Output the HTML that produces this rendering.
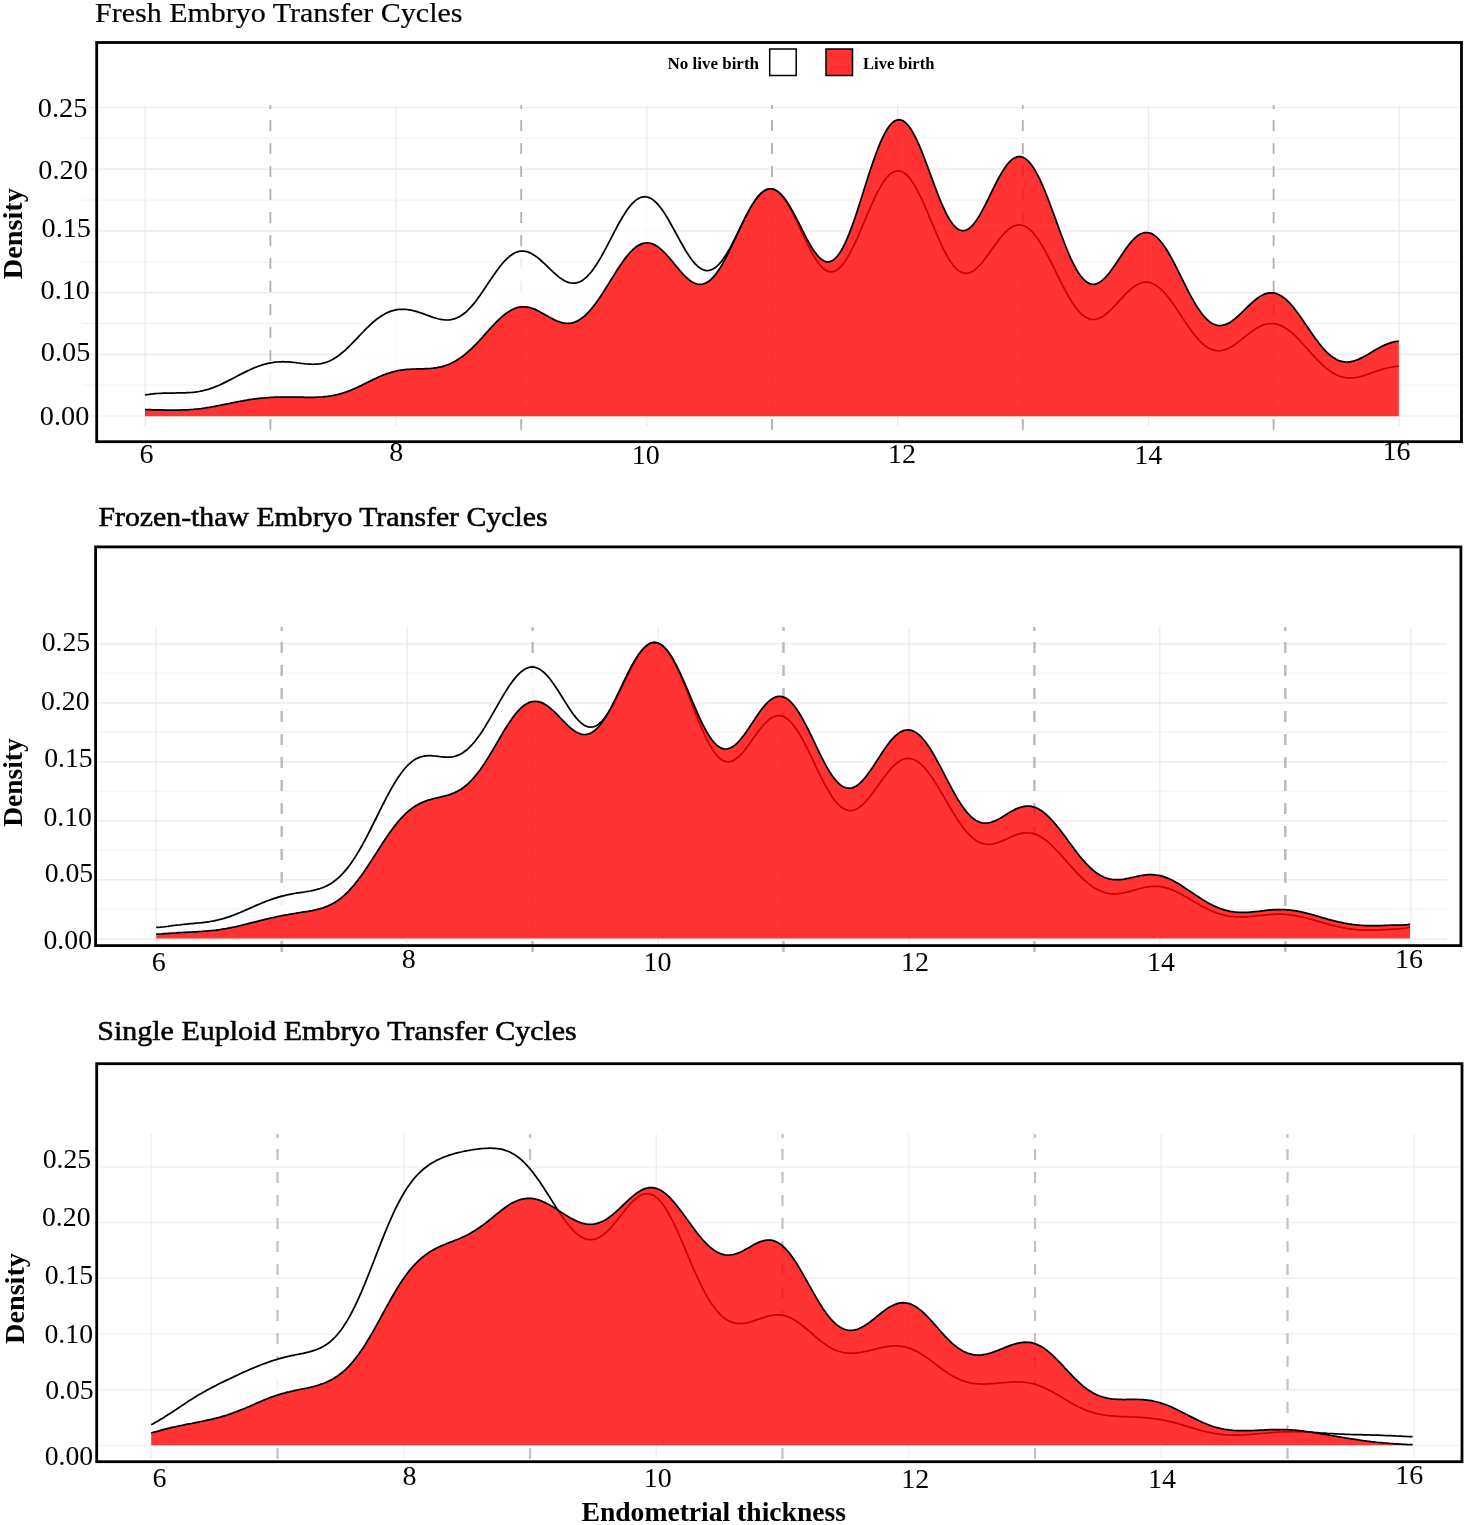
<!DOCTYPE html>
<html lang="en"><head><meta charset="utf-8"><title>Endometrial thickness density</title>
<style>html,body{margin:0;padding:0;background:#fff}svg{display:block}text{font-family:"Liberation Serif","Times New Roman",serif;fill:#000}</style>
</head><body>
<svg width="1480" height="1525" viewBox="0 0 1480 1525">
<rect width="1480" height="1525" fill="#fff"/>
<g>
<path d="M82,138.3H1459 M82,200.1H1459 M82,261.8H1459 M82,323.5H1459 M82,385.2H1459" stroke="#f0f0f0" stroke-width="1" fill="none"/>
<path d="M90,107.5H1459 M90,169.2H1459 M90,230.9H1459 M90,292.6H1459 M90,354.3H1459 M90,416.0H1459 M145.2,105V426 M396.0,105V426 M646.8,105V426 M897.6,105V426 M1148.4,105V426 M1399.2,105V426" stroke="#e9e9e9" stroke-width="1.2" fill="none"/>
<path d="M270.4,105V431 M521.2,105V431 M772.0,105V431 M1022.8,105V431 M1273.6,105V431" stroke="#b0b0b0" stroke-width="1.8" stroke-dasharray="4 11 11 12 11 12 11 12 11 12 11 12 11 12 11 12 11 12 11 12 11 12 11 12 11 12 11 12 11 12" fill="none"/>
<path d="M145.0,394.9 L147.0,394.6 L149.0,394.4 L151.0,394.1 L153.0,393.9 L155.0,393.7 L157.0,393.5 L159.0,393.4 L161.0,393.3 L163.0,393.2 L165.0,393.1 L167.0,393.1 L169.0,393.0 L171.0,393.0 L173.0,393.0 L175.0,393.0 L177.0,392.9 L179.0,392.9 L181.0,392.9 L183.0,392.9 L185.0,392.8 L187.0,392.7 L189.0,392.6 L191.0,392.5 L193.0,392.3 L195.0,392.1 L197.0,391.8 L199.0,391.5 L201.0,391.1 L203.0,390.7 L205.0,390.2 L207.0,389.7 L209.0,389.1 L211.0,388.4 L213.0,387.7 L215.0,386.9 L217.0,386.1 L219.0,385.3 L221.0,384.4 L223.0,383.4 L225.0,382.4 L227.0,381.4 L229.0,380.4 L231.0,379.4 L233.0,378.3 L235.0,377.3 L237.0,376.2 L239.0,375.1 L241.0,374.1 L243.0,373.1 L245.0,372.1 L247.0,371.1 L249.0,370.2 L251.0,369.2 L253.0,368.4 L255.0,367.5 L257.0,366.8 L259.0,366.0 L261.0,365.4 L263.0,364.7 L265.0,364.2 L267.0,363.6 L269.0,363.2 L271.0,362.8 L273.0,362.5 L275.0,362.2 L277.0,362.0 L279.0,361.9 L281.0,361.8 L283.0,361.7 L285.0,361.8 L287.0,361.8 L289.0,361.9 L291.0,362.1 L293.0,362.3 L295.0,362.5 L297.0,362.8 L299.0,363.0 L301.0,363.3 L303.0,363.5 L305.0,363.8 L307.0,364.0 L309.0,364.1 L311.0,364.2 L313.0,364.3 L315.0,364.2 L317.0,364.1 L319.0,363.9 L321.0,363.6 L323.0,363.2 L325.0,362.6 L327.0,362.0 L329.0,361.2 L331.0,360.2 L333.0,359.2 L335.0,358.0 L337.0,356.7 L339.0,355.2 L341.0,353.7 L343.0,352.0 L345.0,350.3 L347.0,348.4 L349.0,346.5 L351.0,344.5 L353.0,342.4 L355.0,340.4 L357.0,338.3 L359.0,336.1 L361.0,334.0 L363.0,332.0 L365.0,329.9 L367.0,327.9 L369.0,326.0 L371.0,324.1 L373.0,322.3 L375.0,320.6 L377.0,319.0 L379.0,317.6 L381.0,316.2 L383.0,314.9 L385.0,313.8 L387.0,312.8 L389.0,311.9 L391.0,311.2 L393.0,310.6 L395.0,310.1 L397.0,309.7 L399.0,309.4 L401.0,309.3 L403.0,309.3 L405.0,309.3 L407.0,309.5 L409.0,309.8 L411.0,310.1 L413.0,310.6 L415.0,311.1 L417.0,311.7 L419.0,312.3 L421.0,313.0 L423.0,313.7 L425.0,314.4 L427.0,315.2 L429.0,315.9 L431.0,316.6 L433.0,317.3 L435.0,317.9 L437.0,318.5 L439.0,319.0 L441.0,319.4 L443.0,319.7 L445.0,319.9 L447.0,320.0 L449.0,319.9 L451.0,319.6 L453.0,319.2 L455.0,318.6 L457.0,317.8 L459.0,316.9 L461.0,315.7 L463.0,314.3 L465.0,312.8 L467.0,311.0 L469.0,309.0 L471.0,306.9 L473.0,304.6 L475.0,302.2 L477.0,299.6 L479.0,296.8 L481.0,294.0 L483.0,291.1 L485.0,288.1 L487.0,285.1 L489.0,282.1 L491.0,279.1 L493.0,276.2 L495.0,273.3 L497.0,270.4 L499.0,267.7 L501.0,265.2 L503.0,262.8 L505.0,260.6 L507.0,258.6 L509.0,256.8 L511.0,255.2 L513.0,253.9 L515.0,252.8 L517.0,252.0 L519.0,251.4 L521.0,251.1 L523.0,251.0 L525.0,251.3 L527.0,251.7 L529.0,252.4 L531.0,253.3 L533.0,254.4 L535.0,255.7 L537.0,257.1 L539.0,258.7 L541.0,260.5 L543.0,262.3 L545.0,264.2 L547.0,266.1 L549.0,268.0 L551.0,270.0 L553.0,271.9 L555.0,273.7 L557.0,275.4 L559.0,277.1 L561.0,278.5 L563.0,279.8 L565.0,281.0 L567.0,281.9 L569.0,282.6 L571.0,283.0 L573.0,283.2 L575.0,283.1 L577.0,282.7 L579.0,282.1 L581.0,281.2 L583.0,279.9 L585.0,278.4 L587.0,276.6 L589.0,274.5 L591.0,272.2 L593.0,269.6 L595.0,266.8 L597.0,263.7 L599.0,260.5 L601.0,257.1 L603.0,253.5 L605.0,249.8 L607.0,246.1 L609.0,242.2 L611.0,238.4 L613.0,234.5 L615.0,230.7 L617.0,226.9 L619.0,223.2 L621.0,219.7 L623.0,216.3 L625.0,213.1 L627.0,210.1 L629.0,207.4 L631.0,204.9 L633.0,202.8 L635.0,200.9 L637.0,199.4 L639.0,198.2 L641.0,197.3 L643.0,196.8 L645.0,196.7 L647.0,197.0 L649.0,197.6 L651.0,198.5 L653.0,199.8 L655.0,201.5 L657.0,203.4 L659.0,205.7 L661.0,208.2 L663.0,211.0 L665.0,214.1 L667.0,217.3 L669.0,220.7 L671.0,224.2 L673.0,227.8 L675.0,231.5 L677.0,235.2 L679.0,238.8 L681.0,242.5 L683.0,246.0 L685.0,249.5 L687.0,252.7 L689.0,255.8 L691.0,258.7 L693.0,261.3 L695.0,263.6 L697.0,265.6 L699.0,267.3 L701.0,268.7 L703.0,269.7 L705.0,270.3 L707.0,270.6 L709.0,270.4 L711.0,269.9 L713.0,269.0 L715.0,267.8 L717.0,266.1 L719.0,264.2 L721.0,261.9 L723.0,259.2 L725.0,256.3 L727.0,253.2 L729.0,249.8 L731.0,246.2 L733.0,242.4 L735.0,238.5 L737.0,234.5 L739.0,230.4 L741.0,226.4 L743.0,222.3 L745.0,218.4 L747.0,214.5 L749.0,210.8 L751.0,207.2 L753.0,203.9 L755.0,200.8 L757.0,198.0 L759.0,195.6 L761.0,193.5 L763.0,191.7 L765.0,190.4 L767.0,189.4 L769.0,188.9 L771.0,188.8 L773.0,189.1 L775.0,189.9 L777.0,191.0 L779.0,192.6 L781.0,194.6 L783.0,197.0 L785.0,199.8 L787.0,202.8 L789.0,206.2 L791.0,209.8 L793.0,213.6 L795.0,217.7 L797.0,221.8 L799.0,226.1 L801.0,230.4 L803.0,234.7 L805.0,238.9 L807.0,243.1 L809.0,247.1 L811.0,251.0 L813.0,254.6 L815.0,258.0 L817.0,261.1 L819.0,263.8 L821.0,266.2 L823.0,268.2 L825.0,269.7 L827.0,270.9 L829.0,271.6 L831.0,271.9 L833.0,271.7 L835.0,271.0 L837.0,269.9 L839.0,268.4 L841.0,266.5 L843.0,264.1 L845.0,261.4 L847.0,258.3 L849.0,254.9 L851.0,251.2 L853.0,247.2 L855.0,243.0 L857.0,238.6 L859.0,234.1 L861.0,229.4 L863.0,224.7 L865.0,220.0 L867.0,215.2 L869.0,210.6 L871.0,206.0 L873.0,201.6 L875.0,197.3 L877.0,193.2 L879.0,189.4 L881.0,185.9 L883.0,182.7 L885.0,179.9 L887.0,177.3 L889.0,175.2 L891.0,173.5 L893.0,172.2 L895.0,171.3 L897.0,170.9 L899.0,170.9 L901.0,171.3 L903.0,172.2 L905.0,173.5 L907.0,175.3 L909.0,177.4 L911.0,180.0 L913.0,182.9 L915.0,186.1 L917.0,189.7 L919.0,193.6 L921.0,197.7 L923.0,202.0 L925.0,206.5 L927.0,211.1 L929.0,215.9 L931.0,220.7 L933.0,225.4 L935.0,230.2 L937.0,234.9 L939.0,239.5 L941.0,243.9 L943.0,248.1 L945.0,252.0 L947.0,255.8 L949.0,259.2 L951.0,262.3 L953.0,265.0 L955.0,267.4 L957.0,269.3 L959.0,270.9 L961.0,272.1 L963.0,272.9 L965.0,273.3 L967.0,273.3 L969.0,272.9 L971.0,272.2 L973.0,271.1 L975.0,269.7 L977.0,268.0 L979.0,266.0 L981.0,263.8 L983.0,261.4 L985.0,258.8 L987.0,256.2 L989.0,253.4 L991.0,250.6 L993.0,247.8 L995.0,245.0 L997.0,242.2 L999.0,239.6 L1001.0,237.1 L1003.0,234.7 L1005.0,232.6 L1007.0,230.7 L1009.0,229.0 L1011.0,227.6 L1013.0,226.4 L1015.0,225.6 L1017.0,225.1 L1019.0,224.9 L1021.0,225.0 L1023.0,225.5 L1025.0,226.3 L1027.0,227.4 L1029.0,228.9 L1031.0,230.6 L1033.0,232.7 L1035.0,235.1 L1037.0,237.7 L1039.0,240.6 L1041.0,243.7 L1043.0,247.1 L1045.0,250.6 L1047.0,254.3 L1049.0,258.1 L1051.0,262.0 L1053.0,266.0 L1055.0,270.1 L1057.0,274.2 L1059.0,278.2 L1061.0,282.2 L1063.0,286.2 L1065.0,290.0 L1067.0,293.7 L1069.0,297.2 L1071.0,300.5 L1073.0,303.7 L1075.0,306.5 L1077.0,309.2 L1079.0,311.5 L1081.0,313.6 L1083.0,315.3 L1085.0,316.8 L1087.0,317.9 L1089.0,318.8 L1091.0,319.3 L1093.0,319.5 L1095.0,319.4 L1097.0,319.0 L1099.0,318.3 L1101.0,317.4 L1103.0,316.2 L1105.0,314.9 L1107.0,313.3 L1109.0,311.5 L1111.0,309.6 L1113.0,307.6 L1115.0,305.5 L1117.0,303.3 L1119.0,301.1 L1121.0,299.0 L1123.0,296.8 L1125.0,294.7 L1127.0,292.7 L1129.0,290.8 L1131.0,289.0 L1133.0,287.4 L1135.0,286.0 L1137.0,284.8 L1139.0,283.8 L1141.0,283.0 L1143.0,282.5 L1145.0,282.2 L1147.0,282.2 L1149.0,282.4 L1151.0,282.9 L1153.0,283.7 L1155.0,284.7 L1157.0,286.0 L1159.0,287.5 L1161.0,289.2 L1163.0,291.2 L1165.0,293.4 L1167.0,295.7 L1169.0,298.2 L1171.0,300.9 L1173.0,303.7 L1175.0,306.5 L1177.0,309.5 L1179.0,312.5 L1181.0,315.5 L1183.0,318.6 L1185.0,321.6 L1187.0,324.5 L1189.0,327.4 L1191.0,330.2 L1193.0,332.9 L1195.0,335.5 L1197.0,337.9 L1199.0,340.1 L1201.0,342.1 L1203.0,344.0 L1205.0,345.6 L1207.0,347.0 L1209.0,348.2 L1211.0,349.2 L1213.0,349.9 L1215.0,350.4 L1217.0,350.7 L1219.0,350.8 L1221.0,350.6 L1223.0,350.2 L1225.0,349.6 L1227.0,348.9 L1229.0,348.0 L1231.0,346.9 L1233.0,345.7 L1235.0,344.4 L1237.0,342.9 L1239.0,341.4 L1241.0,339.9 L1243.0,338.3 L1245.0,336.7 L1247.0,335.1 L1249.0,333.6 L1251.0,332.1 L1253.0,330.6 L1255.0,329.3 L1257.0,328.1 L1259.0,326.9 L1261.0,326.0 L1263.0,325.1 L1265.0,324.5 L1267.0,324.0 L1269.0,323.6 L1271.0,323.5 L1273.0,323.5 L1275.0,323.8 L1277.0,324.2 L1279.0,324.8 L1281.0,325.6 L1283.0,326.6 L1285.0,327.7 L1287.0,329.1 L1289.0,330.5 L1291.0,332.1 L1293.0,333.9 L1295.0,335.7 L1297.0,337.7 L1299.0,339.7 L1301.0,341.9 L1303.0,344.0 L1305.0,346.3 L1307.0,348.5 L1309.0,350.7 L1311.0,353.0 L1313.0,355.2 L1315.0,357.4 L1317.0,359.5 L1319.0,361.5 L1321.0,363.5 L1323.0,365.4 L1325.0,367.1 L1327.0,368.8 L1329.0,370.3 L1331.0,371.7 L1333.0,373.0 L1335.0,374.1 L1337.0,375.1 L1339.0,375.9 L1341.0,376.6 L1343.0,377.1 L1345.0,377.5 L1347.0,377.8 L1349.0,377.9 L1351.0,377.9 L1353.0,377.8 L1355.0,377.6 L1357.0,377.3 L1359.0,376.9 L1361.0,376.4 L1363.0,375.8 L1365.0,375.2 L1367.0,374.5 L1369.0,373.9 L1371.0,373.1 L1373.0,372.4 L1375.0,371.7 L1377.0,371.0 L1379.0,370.3 L1381.0,369.7 L1383.0,369.1 L1385.0,368.5 L1387.0,368.0 L1389.0,367.5 L1391.0,367.1 L1393.0,366.8 L1395.0,366.5 L1397.0,366.3 L1398.8,366.2 L1398.8,416.2 L145.0,416.2 Z" fill="#ffffff" fill-opacity="0.8" stroke="none"/>
<path d="M145.0,394.9 L147.0,394.6 L149.0,394.4 L151.0,394.1 L153.0,393.9 L155.0,393.7 L157.0,393.5 L159.0,393.4 L161.0,393.3 L163.0,393.2 L165.0,393.1 L167.0,393.1 L169.0,393.0 L171.0,393.0 L173.0,393.0 L175.0,393.0 L177.0,392.9 L179.0,392.9 L181.0,392.9 L183.0,392.9 L185.0,392.8 L187.0,392.7 L189.0,392.6 L191.0,392.5 L193.0,392.3 L195.0,392.1 L197.0,391.8 L199.0,391.5 L201.0,391.1 L203.0,390.7 L205.0,390.2 L207.0,389.7 L209.0,389.1 L211.0,388.4 L213.0,387.7 L215.0,386.9 L217.0,386.1 L219.0,385.3 L221.0,384.4 L223.0,383.4 L225.0,382.4 L227.0,381.4 L229.0,380.4 L231.0,379.4 L233.0,378.3 L235.0,377.3 L237.0,376.2 L239.0,375.1 L241.0,374.1 L243.0,373.1 L245.0,372.1 L247.0,371.1 L249.0,370.2 L251.0,369.2 L253.0,368.4 L255.0,367.5 L257.0,366.8 L259.0,366.0 L261.0,365.4 L263.0,364.7 L265.0,364.2 L267.0,363.6 L269.0,363.2 L271.0,362.8 L273.0,362.5 L275.0,362.2 L277.0,362.0 L279.0,361.9 L281.0,361.8 L283.0,361.7 L285.0,361.8 L287.0,361.8 L289.0,361.9 L291.0,362.1 L293.0,362.3 L295.0,362.5 L297.0,362.8 L299.0,363.0 L301.0,363.3 L303.0,363.5 L305.0,363.8 L307.0,364.0 L309.0,364.1 L311.0,364.2 L313.0,364.3 L315.0,364.2 L317.0,364.1 L319.0,363.9 L321.0,363.6 L323.0,363.2 L325.0,362.6 L327.0,362.0 L329.0,361.2 L331.0,360.2 L333.0,359.2 L335.0,358.0 L337.0,356.7 L339.0,355.2 L341.0,353.7 L343.0,352.0 L345.0,350.3 L347.0,348.4 L349.0,346.5 L351.0,344.5 L353.0,342.4 L355.0,340.4 L357.0,338.3 L359.0,336.1 L361.0,334.0 L363.0,332.0 L365.0,329.9 L367.0,327.9 L369.0,326.0 L371.0,324.1 L373.0,322.3 L375.0,320.6 L377.0,319.0 L379.0,317.6 L381.0,316.2 L383.0,314.9 L385.0,313.8 L387.0,312.8 L389.0,311.9 L391.0,311.2 L393.0,310.6 L395.0,310.1 L397.0,309.7 L399.0,309.4 L401.0,309.3 L403.0,309.3 L405.0,309.3 L407.0,309.5 L409.0,309.8 L411.0,310.1 L413.0,310.6 L415.0,311.1 L417.0,311.7 L419.0,312.3 L421.0,313.0 L423.0,313.7 L425.0,314.4 L427.0,315.2 L429.0,315.9 L431.0,316.6 L433.0,317.3 L435.0,317.9 L437.0,318.5 L439.0,319.0 L441.0,319.4 L443.0,319.7 L445.0,319.9 L447.0,320.0 L449.0,319.9 L451.0,319.6 L453.0,319.2 L455.0,318.6 L457.0,317.8 L459.0,316.9 L461.0,315.7 L463.0,314.3 L465.0,312.8 L467.0,311.0 L469.0,309.0 L471.0,306.9 L473.0,304.6 L475.0,302.2 L477.0,299.6 L479.0,296.8 L481.0,294.0 L483.0,291.1 L485.0,288.1 L487.0,285.1 L489.0,282.1 L491.0,279.1 L493.0,276.2 L495.0,273.3 L497.0,270.4 L499.0,267.7 L501.0,265.2 L503.0,262.8 L505.0,260.6 L507.0,258.6 L509.0,256.8 L511.0,255.2 L513.0,253.9 L515.0,252.8 L517.0,252.0 L519.0,251.4 L521.0,251.1 L523.0,251.0 L525.0,251.3 L527.0,251.7 L529.0,252.4 L531.0,253.3 L533.0,254.4 L535.0,255.7 L537.0,257.1 L539.0,258.7 L541.0,260.5 L543.0,262.3 L545.0,264.2 L547.0,266.1 L549.0,268.0 L551.0,270.0 L553.0,271.9 L555.0,273.7 L557.0,275.4 L559.0,277.1 L561.0,278.5 L563.0,279.8 L565.0,281.0 L567.0,281.9 L569.0,282.6 L571.0,283.0 L573.0,283.2 L575.0,283.1 L577.0,282.7 L579.0,282.1 L581.0,281.2 L583.0,279.9 L585.0,278.4 L587.0,276.6 L589.0,274.5 L591.0,272.2 L593.0,269.6 L595.0,266.8 L597.0,263.7 L599.0,260.5 L601.0,257.1 L603.0,253.5 L605.0,249.8 L607.0,246.1 L609.0,242.2 L611.0,238.4 L613.0,234.5 L615.0,230.7 L617.0,226.9 L619.0,223.2 L621.0,219.7 L623.0,216.3 L625.0,213.1 L627.0,210.1 L629.0,207.4 L631.0,204.9 L633.0,202.8 L635.0,200.9 L637.0,199.4 L639.0,198.2 L641.0,197.3 L643.0,196.8 L645.0,196.7 L647.0,197.0 L649.0,197.6 L651.0,198.5 L653.0,199.8 L655.0,201.5 L657.0,203.4 L659.0,205.7 L661.0,208.2 L663.0,211.0 L665.0,214.1 L667.0,217.3 L669.0,220.7 L671.0,224.2 L673.0,227.8 L675.0,231.5 L677.0,235.2 L679.0,238.8 L681.0,242.5 L683.0,246.0 L685.0,249.5 L687.0,252.7 L689.0,255.8 L691.0,258.7 L693.0,261.3 L695.0,263.6 L697.0,265.6 L699.0,267.3 L701.0,268.7 L703.0,269.7 L705.0,270.3 L707.0,270.6 L709.0,270.4 L711.0,269.9 L713.0,269.0 L715.0,267.8 L717.0,266.1 L719.0,264.2 L721.0,261.9 L723.0,259.2 L725.0,256.3 L727.0,253.2 L729.0,249.8 L731.0,246.2 L733.0,242.4 L735.0,238.5 L737.0,234.5 L739.0,230.4 L741.0,226.4 L743.0,222.3 L745.0,218.4 L747.0,214.5 L749.0,210.8 L751.0,207.2 L753.0,203.9 L755.0,200.8 L757.0,198.0 L759.0,195.6 L761.0,193.5 L763.0,191.7 L765.0,190.4 L767.0,189.4 L769.0,188.9 L771.0,188.8 L773.0,189.1 L775.0,189.9 L777.0,191.0 L779.0,192.6 L781.0,194.6 L783.0,197.0 L785.0,199.8 L787.0,202.8 L789.0,206.2 L791.0,209.8 L793.0,213.6 L795.0,217.7 L797.0,221.8 L799.0,226.1 L801.0,230.4 L803.0,234.7 L805.0,238.9 L807.0,243.1 L809.0,247.1 L811.0,251.0 L813.0,254.6 L815.0,258.0 L817.0,261.1 L819.0,263.8 L821.0,266.2 L823.0,268.2 L825.0,269.7 L827.0,270.9 L829.0,271.6 L831.0,271.9 L833.0,271.7 L835.0,271.0 L837.0,269.9 L839.0,268.4 L841.0,266.5 L843.0,264.1 L845.0,261.4 L847.0,258.3 L849.0,254.9 L851.0,251.2 L853.0,247.2 L855.0,243.0 L857.0,238.6 L859.0,234.1 L861.0,229.4 L863.0,224.7 L865.0,220.0 L867.0,215.2 L869.0,210.6 L871.0,206.0 L873.0,201.6 L875.0,197.3 L877.0,193.2 L879.0,189.4 L881.0,185.9 L883.0,182.7 L885.0,179.9 L887.0,177.3 L889.0,175.2 L891.0,173.5 L893.0,172.2 L895.0,171.3 L897.0,170.9 L899.0,170.9 L901.0,171.3 L903.0,172.2 L905.0,173.5 L907.0,175.3 L909.0,177.4 L911.0,180.0 L913.0,182.9 L915.0,186.1 L917.0,189.7 L919.0,193.6 L921.0,197.7 L923.0,202.0 L925.0,206.5 L927.0,211.1 L929.0,215.9 L931.0,220.7 L933.0,225.4 L935.0,230.2 L937.0,234.9 L939.0,239.5 L941.0,243.9 L943.0,248.1 L945.0,252.0 L947.0,255.8 L949.0,259.2 L951.0,262.3 L953.0,265.0 L955.0,267.4 L957.0,269.3 L959.0,270.9 L961.0,272.1 L963.0,272.9 L965.0,273.3 L967.0,273.3 L969.0,272.9 L971.0,272.2 L973.0,271.1 L975.0,269.7 L977.0,268.0 L979.0,266.0 L981.0,263.8 L983.0,261.4 L985.0,258.8 L987.0,256.2 L989.0,253.4 L991.0,250.6 L993.0,247.8 L995.0,245.0 L997.0,242.2 L999.0,239.6 L1001.0,237.1 L1003.0,234.7 L1005.0,232.6 L1007.0,230.7 L1009.0,229.0 L1011.0,227.6 L1013.0,226.4 L1015.0,225.6 L1017.0,225.1 L1019.0,224.9 L1021.0,225.0 L1023.0,225.5 L1025.0,226.3 L1027.0,227.4 L1029.0,228.9 L1031.0,230.6 L1033.0,232.7 L1035.0,235.1 L1037.0,237.7 L1039.0,240.6 L1041.0,243.7 L1043.0,247.1 L1045.0,250.6 L1047.0,254.3 L1049.0,258.1 L1051.0,262.0 L1053.0,266.0 L1055.0,270.1 L1057.0,274.2 L1059.0,278.2 L1061.0,282.2 L1063.0,286.2 L1065.0,290.0 L1067.0,293.7 L1069.0,297.2 L1071.0,300.5 L1073.0,303.7 L1075.0,306.5 L1077.0,309.2 L1079.0,311.5 L1081.0,313.6 L1083.0,315.3 L1085.0,316.8 L1087.0,317.9 L1089.0,318.8 L1091.0,319.3 L1093.0,319.5 L1095.0,319.4 L1097.0,319.0 L1099.0,318.3 L1101.0,317.4 L1103.0,316.2 L1105.0,314.9 L1107.0,313.3 L1109.0,311.5 L1111.0,309.6 L1113.0,307.6 L1115.0,305.5 L1117.0,303.3 L1119.0,301.1 L1121.0,299.0 L1123.0,296.8 L1125.0,294.7 L1127.0,292.7 L1129.0,290.8 L1131.0,289.0 L1133.0,287.4 L1135.0,286.0 L1137.0,284.8 L1139.0,283.8 L1141.0,283.0 L1143.0,282.5 L1145.0,282.2 L1147.0,282.2 L1149.0,282.4 L1151.0,282.9 L1153.0,283.7 L1155.0,284.7 L1157.0,286.0 L1159.0,287.5 L1161.0,289.2 L1163.0,291.2 L1165.0,293.4 L1167.0,295.7 L1169.0,298.2 L1171.0,300.9 L1173.0,303.7 L1175.0,306.5 L1177.0,309.5 L1179.0,312.5 L1181.0,315.5 L1183.0,318.6 L1185.0,321.6 L1187.0,324.5 L1189.0,327.4 L1191.0,330.2 L1193.0,332.9 L1195.0,335.5 L1197.0,337.9 L1199.0,340.1 L1201.0,342.1 L1203.0,344.0 L1205.0,345.6 L1207.0,347.0 L1209.0,348.2 L1211.0,349.2 L1213.0,349.9 L1215.0,350.4 L1217.0,350.7 L1219.0,350.8 L1221.0,350.6 L1223.0,350.2 L1225.0,349.6 L1227.0,348.9 L1229.0,348.0 L1231.0,346.9 L1233.0,345.7 L1235.0,344.4 L1237.0,342.9 L1239.0,341.4 L1241.0,339.9 L1243.0,338.3 L1245.0,336.7 L1247.0,335.1 L1249.0,333.6 L1251.0,332.1 L1253.0,330.6 L1255.0,329.3 L1257.0,328.1 L1259.0,326.9 L1261.0,326.0 L1263.0,325.1 L1265.0,324.5 L1267.0,324.0 L1269.0,323.6 L1271.0,323.5 L1273.0,323.5 L1275.0,323.8 L1277.0,324.2 L1279.0,324.8 L1281.0,325.6 L1283.0,326.6 L1285.0,327.7 L1287.0,329.1 L1289.0,330.5 L1291.0,332.1 L1293.0,333.9 L1295.0,335.7 L1297.0,337.7 L1299.0,339.7 L1301.0,341.9 L1303.0,344.0 L1305.0,346.3 L1307.0,348.5 L1309.0,350.7 L1311.0,353.0 L1313.0,355.2 L1315.0,357.4 L1317.0,359.5 L1319.0,361.5 L1321.0,363.5 L1323.0,365.4 L1325.0,367.1 L1327.0,368.8 L1329.0,370.3 L1331.0,371.7 L1333.0,373.0 L1335.0,374.1 L1337.0,375.1 L1339.0,375.9 L1341.0,376.6 L1343.0,377.1 L1345.0,377.5 L1347.0,377.8 L1349.0,377.9 L1351.0,377.9 L1353.0,377.8 L1355.0,377.6 L1357.0,377.3 L1359.0,376.9 L1361.0,376.4 L1363.0,375.8 L1365.0,375.2 L1367.0,374.5 L1369.0,373.9 L1371.0,373.1 L1373.0,372.4 L1375.0,371.7 L1377.0,371.0 L1379.0,370.3 L1381.0,369.7 L1383.0,369.1 L1385.0,368.5 L1387.0,368.0 L1389.0,367.5 L1391.0,367.1 L1393.0,366.8 L1395.0,366.5 L1397.0,366.3 L1398.8,366.2" fill="none" stroke="#000" stroke-width="1.75" stroke-linejoin="round"/>
<path d="M145.0,409.5 L147.0,409.6 L149.0,409.7 L151.0,409.7 L153.0,409.8 L155.0,409.8 L157.0,409.8 L159.0,409.9 L161.0,409.9 L163.0,409.9 L165.0,410.0 L167.0,410.0 L169.0,410.0 L171.0,410.0 L173.0,410.0 L175.0,410.1 L177.0,410.0 L179.0,410.0 L181.0,410.0 L183.0,409.9 L185.0,409.9 L187.0,409.8 L189.0,409.7 L191.0,409.5 L193.0,409.4 L195.0,409.2 L197.0,409.0 L199.0,408.8 L201.0,408.6 L203.0,408.3 L205.0,408.0 L207.0,407.7 L209.0,407.4 L211.0,407.0 L213.0,406.7 L215.0,406.3 L217.0,405.9 L219.0,405.5 L221.0,405.1 L223.0,404.7 L225.0,404.3 L227.0,403.9 L229.0,403.5 L231.0,403.1 L233.0,402.7 L235.0,402.3 L237.0,401.9 L239.0,401.5 L241.0,401.1 L243.0,400.8 L245.0,400.4 L247.0,400.1 L249.0,399.7 L251.0,399.4 L253.0,399.2 L255.0,398.9 L257.0,398.6 L259.0,398.4 L261.0,398.2 L263.0,398.0 L265.0,397.8 L267.0,397.7 L269.0,397.5 L271.0,397.4 L273.0,397.3 L275.0,397.2 L277.0,397.1 L279.0,397.1 L281.0,397.0 L283.0,397.0 L285.0,397.0 L287.0,397.0 L289.0,397.0 L291.0,397.0 L293.0,397.1 L295.0,397.1 L297.0,397.1 L299.0,397.2 L301.0,397.2 L303.0,397.2 L305.0,397.3 L307.0,397.3 L309.0,397.3 L311.0,397.3 L313.0,397.3 L315.0,397.3 L317.0,397.2 L319.0,397.1 L321.0,397.0 L323.0,396.9 L325.0,396.7 L327.0,396.5 L329.0,396.2 L331.0,395.9 L333.0,395.5 L335.0,395.1 L337.0,394.7 L339.0,394.2 L341.0,393.6 L343.0,393.0 L345.0,392.4 L347.0,391.7 L349.0,390.9 L351.0,390.1 L353.0,389.3 L355.0,388.4 L357.0,387.5 L359.0,386.5 L361.0,385.6 L363.0,384.6 L365.0,383.6 L367.0,382.6 L369.0,381.6 L371.0,380.6 L373.0,379.6 L375.0,378.7 L377.0,377.7 L379.0,376.8 L381.0,376.0 L383.0,375.1 L385.0,374.4 L387.0,373.6 L389.0,373.0 L391.0,372.3 L393.0,371.8 L395.0,371.3 L397.0,370.8 L399.0,370.4 L401.0,370.1 L403.0,369.8 L405.0,369.6 L407.0,369.4 L409.0,369.3 L411.0,369.1 L413.0,369.1 L415.0,369.0 L417.0,368.9 L419.0,368.9 L421.0,368.8 L423.0,368.8 L425.0,368.7 L427.0,368.6 L429.0,368.5 L431.0,368.4 L433.0,368.2 L435.0,367.9 L437.0,367.6 L439.0,367.2 L441.0,366.8 L443.0,366.3 L445.0,365.7 L447.0,365.0 L449.0,364.2 L451.0,363.3 L453.0,362.3 L455.0,361.3 L457.0,360.1 L459.0,358.8 L461.0,357.4 L463.0,356.0 L465.0,354.4 L467.0,352.7 L469.0,350.9 L471.0,349.1 L473.0,347.2 L475.0,345.2 L477.0,343.1 L479.0,341.0 L481.0,338.8 L483.0,336.6 L485.0,334.4 L487.0,332.1 L489.0,329.9 L491.0,327.7 L493.0,325.6 L495.0,323.4 L497.0,321.4 L499.0,319.4 L501.0,317.6 L503.0,315.8 L505.0,314.2 L507.0,312.7 L509.0,311.4 L511.0,310.2 L513.0,309.2 L515.0,308.3 L517.0,307.7 L519.0,307.2 L521.0,306.9 L523.0,306.8 L525.0,306.8 L527.0,307.1 L529.0,307.4 L531.0,308.0 L533.0,308.7 L535.0,309.4 L537.0,310.4 L539.0,311.3 L541.0,312.4 L543.0,313.5 L545.0,314.7 L547.0,315.8 L549.0,317.0 L551.0,318.1 L553.0,319.1 L555.0,320.1 L557.0,321.0 L559.0,321.7 L561.0,322.4 L563.0,322.9 L565.0,323.2 L567.0,323.3 L569.0,323.3 L571.0,323.1 L573.0,322.6 L575.0,322.0 L577.0,321.1 L579.0,320.1 L581.0,318.8 L583.0,317.3 L585.0,315.6 L587.0,313.7 L589.0,311.6 L591.0,309.3 L593.0,306.9 L595.0,304.3 L597.0,301.5 L599.0,298.7 L601.0,295.7 L603.0,292.6 L605.0,289.5 L607.0,286.3 L609.0,283.1 L611.0,279.8 L613.0,276.6 L615.0,273.4 L617.0,270.3 L619.0,267.2 L621.0,264.2 L623.0,261.4 L625.0,258.6 L627.0,256.1 L629.0,253.7 L631.0,251.5 L633.0,249.5 L635.0,247.8 L637.0,246.3 L639.0,245.1 L641.0,244.1 L643.0,243.4 L645.0,243.0 L647.0,242.8 L649.0,243.0 L651.0,243.4 L653.0,244.1 L655.0,245.0 L657.0,246.2 L659.0,247.6 L661.0,249.3 L663.0,251.1 L665.0,253.1 L667.0,255.3 L669.0,257.5 L671.0,259.9 L673.0,262.3 L675.0,264.7 L677.0,267.1 L679.0,269.5 L681.0,271.8 L683.0,274.0 L685.0,276.1 L687.0,278.0 L689.0,279.7 L691.0,281.2 L693.0,282.4 L695.0,283.3 L697.0,284.0 L699.0,284.3 L701.0,284.4 L703.0,284.0 L705.0,283.4 L707.0,282.4 L709.0,281.1 L711.0,279.4 L713.0,277.4 L715.0,275.1 L717.0,272.5 L719.0,269.6 L721.0,266.4 L723.0,263.0 L725.0,259.4 L727.0,255.5 L729.0,251.6 L731.0,247.4 L733.0,243.2 L735.0,239.0 L737.0,234.7 L739.0,230.4 L741.0,226.1 L743.0,222.0 L745.0,217.9 L747.0,214.0 L749.0,210.3 L751.0,206.8 L753.0,203.5 L755.0,200.5 L757.0,197.8 L759.0,195.4 L761.0,193.4 L763.0,191.7 L765.0,190.4 L767.0,189.5 L769.0,189.0 L771.0,188.9 L773.0,189.2 L775.0,189.9 L777.0,191.0 L779.0,192.5 L781.0,194.3 L783.0,196.6 L785.0,199.1 L787.0,201.9 L789.0,205.0 L791.0,208.4 L793.0,211.9 L795.0,215.7 L797.0,219.5 L799.0,223.5 L801.0,227.4 L803.0,231.4 L805.0,235.3 L807.0,239.1 L809.0,242.7 L811.0,246.2 L813.0,249.4 L815.0,252.3 L817.0,254.9 L819.0,257.1 L821.0,259.0 L823.0,260.4 L825.0,261.3 L827.0,261.8 L829.0,261.8 L831.0,261.2 L833.0,260.2 L835.0,258.6 L837.0,256.5 L839.0,254.0 L841.0,250.9 L843.0,247.3 L845.0,243.3 L847.0,238.9 L849.0,234.1 L851.0,228.9 L853.0,223.4 L855.0,217.7 L857.0,211.7 L859.0,205.6 L861.0,199.3 L863.0,193.0 L865.0,186.6 L867.0,180.3 L869.0,174.1 L871.0,168.0 L873.0,162.1 L875.0,156.4 L877.0,151.0 L879.0,145.9 L881.0,141.1 L883.0,136.8 L885.0,132.9 L887.0,129.5 L889.0,126.5 L891.0,124.1 L893.0,122.2 L895.0,120.8 L897.0,120.0 L899.0,119.7 L901.0,120.0 L903.0,120.8 L905.0,122.2 L907.0,124.1 L909.0,126.5 L911.0,129.3 L913.0,132.6 L915.0,136.4 L917.0,140.4 L919.0,144.9 L921.0,149.6 L923.0,154.6 L925.0,159.7 L927.0,165.1 L929.0,170.5 L931.0,175.9 L933.0,181.4 L935.0,186.8 L937.0,192.1 L939.0,197.2 L941.0,202.1 L943.0,206.7 L945.0,211.0 L947.0,215.0 L949.0,218.6 L951.0,221.7 L953.0,224.5 L955.0,226.7 L957.0,228.5 L959.0,229.7 L961.0,230.5 L963.0,230.7 L965.0,230.5 L967.0,229.8 L969.0,228.5 L971.0,226.9 L973.0,224.8 L975.0,222.3 L977.0,219.5 L979.0,216.3 L981.0,212.9 L983.0,209.2 L985.0,205.4 L987.0,201.4 L989.0,197.3 L991.0,193.2 L993.0,189.1 L995.0,185.1 L997.0,181.2 L999.0,177.4 L1001.0,173.9 L1003.0,170.6 L1005.0,167.5 L1007.0,164.8 L1009.0,162.4 L1011.0,160.4 L1013.0,158.8 L1015.0,157.7 L1017.0,156.9 L1019.0,156.6 L1021.0,156.7 L1023.0,157.3 L1025.0,158.4 L1027.0,159.9 L1029.0,161.9 L1031.0,164.2 L1033.0,167.0 L1035.0,170.2 L1037.0,173.8 L1039.0,177.7 L1041.0,181.9 L1043.0,186.5 L1045.0,191.2 L1047.0,196.2 L1049.0,201.4 L1051.0,206.7 L1053.0,212.1 L1055.0,217.6 L1057.0,223.1 L1059.0,228.6 L1061.0,234.0 L1063.0,239.3 L1065.0,244.5 L1067.0,249.5 L1069.0,254.3 L1071.0,258.8 L1073.0,263.0 L1075.0,266.9 L1077.0,270.4 L1079.0,273.6 L1081.0,276.4 L1083.0,278.7 L1085.0,280.7 L1087.0,282.2 L1089.0,283.3 L1091.0,284.0 L1093.0,284.3 L1095.0,284.1 L1097.0,283.6 L1099.0,282.6 L1101.0,281.4 L1103.0,279.7 L1105.0,277.8 L1107.0,275.6 L1109.0,273.2 L1111.0,270.6 L1113.0,267.8 L1115.0,264.9 L1117.0,261.9 L1119.0,258.9 L1121.0,255.9 L1123.0,252.9 L1125.0,250.0 L1127.0,247.2 L1129.0,244.6 L1131.0,242.1 L1133.0,239.9 L1135.0,237.9 L1137.0,236.2 L1139.0,234.8 L1141.0,233.8 L1143.0,233.0 L1145.0,232.6 L1147.0,232.5 L1149.0,232.8 L1151.0,233.4 L1153.0,234.4 L1155.0,235.8 L1157.0,237.5 L1159.0,239.5 L1161.0,241.8 L1163.0,244.4 L1165.0,247.2 L1167.0,250.3 L1169.0,253.7 L1171.0,257.2 L1173.0,260.9 L1175.0,264.7 L1177.0,268.6 L1179.0,272.6 L1181.0,276.7 L1183.0,280.7 L1185.0,284.7 L1187.0,288.7 L1189.0,292.6 L1191.0,296.3 L1193.0,299.9 L1195.0,303.4 L1197.0,306.7 L1199.0,309.7 L1201.0,312.6 L1203.0,315.1 L1205.0,317.4 L1207.0,319.5 L1209.0,321.2 L1211.0,322.7 L1213.0,323.8 L1215.0,324.7 L1217.0,325.3 L1219.0,325.5 L1221.0,325.5 L1223.0,325.2 L1225.0,324.7 L1227.0,323.9 L1229.0,322.9 L1231.0,321.7 L1233.0,320.3 L1235.0,318.7 L1237.0,317.0 L1239.0,315.2 L1241.0,313.3 L1243.0,311.4 L1245.0,309.4 L1247.0,307.4 L1249.0,305.5 L1251.0,303.6 L1253.0,301.8 L1255.0,300.1 L1257.0,298.5 L1259.0,297.1 L1261.0,295.9 L1263.0,294.8 L1265.0,293.9 L1267.0,293.3 L1269.0,292.9 L1271.0,292.8 L1273.0,292.9 L1275.0,293.2 L1277.0,293.8 L1279.0,294.7 L1281.0,295.7 L1283.0,297.1 L1285.0,298.6 L1287.0,300.4 L1289.0,302.4 L1291.0,304.6 L1293.0,306.9 L1295.0,309.4 L1297.0,312.0 L1299.0,314.7 L1301.0,317.6 L1303.0,320.4 L1305.0,323.4 L1307.0,326.3 L1309.0,329.3 L1311.0,332.2 L1313.0,335.1 L1315.0,337.9 L1317.0,340.6 L1319.0,343.3 L1321.0,345.8 L1323.0,348.1 L1325.0,350.3 L1327.0,352.3 L1329.0,354.2 L1331.0,355.9 L1333.0,357.3 L1335.0,358.6 L1337.0,359.7 L1339.0,360.6 L1341.0,361.2 L1343.0,361.7 L1345.0,361.9 L1347.0,362.0 L1349.0,361.9 L1351.0,361.6 L1353.0,361.2 L1355.0,360.6 L1357.0,359.9 L1359.0,359.1 L1361.0,358.1 L1363.0,357.1 L1365.0,356.0 L1367.0,354.9 L1369.0,353.7 L1371.0,352.5 L1373.0,351.3 L1375.0,350.1 L1377.0,349.0 L1379.0,347.9 L1381.0,346.8 L1383.0,345.8 L1385.0,344.9 L1387.0,344.1 L1389.0,343.3 L1391.0,342.7 L1393.0,342.2 L1395.0,341.7 L1397.0,341.4 L1398.8,341.2 L1398.8,416.2 L145.0,416.2 Z" fill="#ff0000" fill-opacity="0.8" stroke="none"/>
<path d="M145.0,409.5 L147.0,409.6 L149.0,409.7 L151.0,409.7 L153.0,409.8 L155.0,409.8 L157.0,409.8 L159.0,409.9 L161.0,409.9 L163.0,409.9 L165.0,410.0 L167.0,410.0 L169.0,410.0 L171.0,410.0 L173.0,410.0 L175.0,410.1 L177.0,410.0 L179.0,410.0 L181.0,410.0 L183.0,409.9 L185.0,409.9 L187.0,409.8 L189.0,409.7 L191.0,409.5 L193.0,409.4 L195.0,409.2 L197.0,409.0 L199.0,408.8 L201.0,408.6 L203.0,408.3 L205.0,408.0 L207.0,407.7 L209.0,407.4 L211.0,407.0 L213.0,406.7 L215.0,406.3 L217.0,405.9 L219.0,405.5 L221.0,405.1 L223.0,404.7 L225.0,404.3 L227.0,403.9 L229.0,403.5 L231.0,403.1 L233.0,402.7 L235.0,402.3 L237.0,401.9 L239.0,401.5 L241.0,401.1 L243.0,400.8 L245.0,400.4 L247.0,400.1 L249.0,399.7 L251.0,399.4 L253.0,399.2 L255.0,398.9 L257.0,398.6 L259.0,398.4 L261.0,398.2 L263.0,398.0 L265.0,397.8 L267.0,397.7 L269.0,397.5 L271.0,397.4 L273.0,397.3 L275.0,397.2 L277.0,397.1 L279.0,397.1 L281.0,397.0 L283.0,397.0 L285.0,397.0 L287.0,397.0 L289.0,397.0 L291.0,397.0 L293.0,397.1 L295.0,397.1 L297.0,397.1 L299.0,397.2 L301.0,397.2 L303.0,397.2 L305.0,397.3 L307.0,397.3 L309.0,397.3 L311.0,397.3 L313.0,397.3 L315.0,397.3 L317.0,397.2 L319.0,397.1 L321.0,397.0 L323.0,396.9 L325.0,396.7 L327.0,396.5 L329.0,396.2 L331.0,395.9 L333.0,395.5 L335.0,395.1 L337.0,394.7 L339.0,394.2 L341.0,393.6 L343.0,393.0 L345.0,392.4 L347.0,391.7 L349.0,390.9 L351.0,390.1 L353.0,389.3 L355.0,388.4 L357.0,387.5 L359.0,386.5 L361.0,385.6 L363.0,384.6 L365.0,383.6 L367.0,382.6 L369.0,381.6 L371.0,380.6 L373.0,379.6 L375.0,378.7 L377.0,377.7 L379.0,376.8 L381.0,376.0 L383.0,375.1 L385.0,374.4 L387.0,373.6 L389.0,373.0 L391.0,372.3 L393.0,371.8 L395.0,371.3 L397.0,370.8 L399.0,370.4 L401.0,370.1 L403.0,369.8 L405.0,369.6 L407.0,369.4 L409.0,369.3 L411.0,369.1 L413.0,369.1 L415.0,369.0 L417.0,368.9 L419.0,368.9 L421.0,368.8 L423.0,368.8 L425.0,368.7 L427.0,368.6 L429.0,368.5 L431.0,368.4 L433.0,368.2 L435.0,367.9 L437.0,367.6 L439.0,367.2 L441.0,366.8 L443.0,366.3 L445.0,365.7 L447.0,365.0 L449.0,364.2 L451.0,363.3 L453.0,362.3 L455.0,361.3 L457.0,360.1 L459.0,358.8 L461.0,357.4 L463.0,356.0 L465.0,354.4 L467.0,352.7 L469.0,350.9 L471.0,349.1 L473.0,347.2 L475.0,345.2 L477.0,343.1 L479.0,341.0 L481.0,338.8 L483.0,336.6 L485.0,334.4 L487.0,332.1 L489.0,329.9 L491.0,327.7 L493.0,325.6 L495.0,323.4 L497.0,321.4 L499.0,319.4 L501.0,317.6 L503.0,315.8 L505.0,314.2 L507.0,312.7 L509.0,311.4 L511.0,310.2 L513.0,309.2 L515.0,308.3 L517.0,307.7 L519.0,307.2 L521.0,306.9 L523.0,306.8 L525.0,306.8 L527.0,307.1 L529.0,307.4 L531.0,308.0 L533.0,308.7 L535.0,309.4 L537.0,310.4 L539.0,311.3 L541.0,312.4 L543.0,313.5 L545.0,314.7 L547.0,315.8 L549.0,317.0 L551.0,318.1 L553.0,319.1 L555.0,320.1 L557.0,321.0 L559.0,321.7 L561.0,322.4 L563.0,322.9 L565.0,323.2 L567.0,323.3 L569.0,323.3 L571.0,323.1 L573.0,322.6 L575.0,322.0 L577.0,321.1 L579.0,320.1 L581.0,318.8 L583.0,317.3 L585.0,315.6 L587.0,313.7 L589.0,311.6 L591.0,309.3 L593.0,306.9 L595.0,304.3 L597.0,301.5 L599.0,298.7 L601.0,295.7 L603.0,292.6 L605.0,289.5 L607.0,286.3 L609.0,283.1 L611.0,279.8 L613.0,276.6 L615.0,273.4 L617.0,270.3 L619.0,267.2 L621.0,264.2 L623.0,261.4 L625.0,258.6 L627.0,256.1 L629.0,253.7 L631.0,251.5 L633.0,249.5 L635.0,247.8 L637.0,246.3 L639.0,245.1 L641.0,244.1 L643.0,243.4 L645.0,243.0 L647.0,242.8 L649.0,243.0 L651.0,243.4 L653.0,244.1 L655.0,245.0 L657.0,246.2 L659.0,247.6 L661.0,249.3 L663.0,251.1 L665.0,253.1 L667.0,255.3 L669.0,257.5 L671.0,259.9 L673.0,262.3 L675.0,264.7 L677.0,267.1 L679.0,269.5 L681.0,271.8 L683.0,274.0 L685.0,276.1 L687.0,278.0 L689.0,279.7 L691.0,281.2 L693.0,282.4 L695.0,283.3 L697.0,284.0 L699.0,284.3 L701.0,284.4 L703.0,284.0 L705.0,283.4 L707.0,282.4 L709.0,281.1 L711.0,279.4 L713.0,277.4 L715.0,275.1 L717.0,272.5 L719.0,269.6 L721.0,266.4 L723.0,263.0 L725.0,259.4 L727.0,255.5 L729.0,251.6 L731.0,247.4 L733.0,243.2 L735.0,239.0 L737.0,234.7 L739.0,230.4 L741.0,226.1 L743.0,222.0 L745.0,217.9 L747.0,214.0 L749.0,210.3 L751.0,206.8 L753.0,203.5 L755.0,200.5 L757.0,197.8 L759.0,195.4 L761.0,193.4 L763.0,191.7 L765.0,190.4 L767.0,189.5 L769.0,189.0 L771.0,188.9 L773.0,189.2 L775.0,189.9 L777.0,191.0 L779.0,192.5 L781.0,194.3 L783.0,196.6 L785.0,199.1 L787.0,201.9 L789.0,205.0 L791.0,208.4 L793.0,211.9 L795.0,215.7 L797.0,219.5 L799.0,223.5 L801.0,227.4 L803.0,231.4 L805.0,235.3 L807.0,239.1 L809.0,242.7 L811.0,246.2 L813.0,249.4 L815.0,252.3 L817.0,254.9 L819.0,257.1 L821.0,259.0 L823.0,260.4 L825.0,261.3 L827.0,261.8 L829.0,261.8 L831.0,261.2 L833.0,260.2 L835.0,258.6 L837.0,256.5 L839.0,254.0 L841.0,250.9 L843.0,247.3 L845.0,243.3 L847.0,238.9 L849.0,234.1 L851.0,228.9 L853.0,223.4 L855.0,217.7 L857.0,211.7 L859.0,205.6 L861.0,199.3 L863.0,193.0 L865.0,186.6 L867.0,180.3 L869.0,174.1 L871.0,168.0 L873.0,162.1 L875.0,156.4 L877.0,151.0 L879.0,145.9 L881.0,141.1 L883.0,136.8 L885.0,132.9 L887.0,129.5 L889.0,126.5 L891.0,124.1 L893.0,122.2 L895.0,120.8 L897.0,120.0 L899.0,119.7 L901.0,120.0 L903.0,120.8 L905.0,122.2 L907.0,124.1 L909.0,126.5 L911.0,129.3 L913.0,132.6 L915.0,136.4 L917.0,140.4 L919.0,144.9 L921.0,149.6 L923.0,154.6 L925.0,159.7 L927.0,165.1 L929.0,170.5 L931.0,175.9 L933.0,181.4 L935.0,186.8 L937.0,192.1 L939.0,197.2 L941.0,202.1 L943.0,206.7 L945.0,211.0 L947.0,215.0 L949.0,218.6 L951.0,221.7 L953.0,224.5 L955.0,226.7 L957.0,228.5 L959.0,229.7 L961.0,230.5 L963.0,230.7 L965.0,230.5 L967.0,229.8 L969.0,228.5 L971.0,226.9 L973.0,224.8 L975.0,222.3 L977.0,219.5 L979.0,216.3 L981.0,212.9 L983.0,209.2 L985.0,205.4 L987.0,201.4 L989.0,197.3 L991.0,193.2 L993.0,189.1 L995.0,185.1 L997.0,181.2 L999.0,177.4 L1001.0,173.9 L1003.0,170.6 L1005.0,167.5 L1007.0,164.8 L1009.0,162.4 L1011.0,160.4 L1013.0,158.8 L1015.0,157.7 L1017.0,156.9 L1019.0,156.6 L1021.0,156.7 L1023.0,157.3 L1025.0,158.4 L1027.0,159.9 L1029.0,161.9 L1031.0,164.2 L1033.0,167.0 L1035.0,170.2 L1037.0,173.8 L1039.0,177.7 L1041.0,181.9 L1043.0,186.5 L1045.0,191.2 L1047.0,196.2 L1049.0,201.4 L1051.0,206.7 L1053.0,212.1 L1055.0,217.6 L1057.0,223.1 L1059.0,228.6 L1061.0,234.0 L1063.0,239.3 L1065.0,244.5 L1067.0,249.5 L1069.0,254.3 L1071.0,258.8 L1073.0,263.0 L1075.0,266.9 L1077.0,270.4 L1079.0,273.6 L1081.0,276.4 L1083.0,278.7 L1085.0,280.7 L1087.0,282.2 L1089.0,283.3 L1091.0,284.0 L1093.0,284.3 L1095.0,284.1 L1097.0,283.6 L1099.0,282.6 L1101.0,281.4 L1103.0,279.7 L1105.0,277.8 L1107.0,275.6 L1109.0,273.2 L1111.0,270.6 L1113.0,267.8 L1115.0,264.9 L1117.0,261.9 L1119.0,258.9 L1121.0,255.9 L1123.0,252.9 L1125.0,250.0 L1127.0,247.2 L1129.0,244.6 L1131.0,242.1 L1133.0,239.9 L1135.0,237.9 L1137.0,236.2 L1139.0,234.8 L1141.0,233.8 L1143.0,233.0 L1145.0,232.6 L1147.0,232.5 L1149.0,232.8 L1151.0,233.4 L1153.0,234.4 L1155.0,235.8 L1157.0,237.5 L1159.0,239.5 L1161.0,241.8 L1163.0,244.4 L1165.0,247.2 L1167.0,250.3 L1169.0,253.7 L1171.0,257.2 L1173.0,260.9 L1175.0,264.7 L1177.0,268.6 L1179.0,272.6 L1181.0,276.7 L1183.0,280.7 L1185.0,284.7 L1187.0,288.7 L1189.0,292.6 L1191.0,296.3 L1193.0,299.9 L1195.0,303.4 L1197.0,306.7 L1199.0,309.7 L1201.0,312.6 L1203.0,315.1 L1205.0,317.4 L1207.0,319.5 L1209.0,321.2 L1211.0,322.7 L1213.0,323.8 L1215.0,324.7 L1217.0,325.3 L1219.0,325.5 L1221.0,325.5 L1223.0,325.2 L1225.0,324.7 L1227.0,323.9 L1229.0,322.9 L1231.0,321.7 L1233.0,320.3 L1235.0,318.7 L1237.0,317.0 L1239.0,315.2 L1241.0,313.3 L1243.0,311.4 L1245.0,309.4 L1247.0,307.4 L1249.0,305.5 L1251.0,303.6 L1253.0,301.8 L1255.0,300.1 L1257.0,298.5 L1259.0,297.1 L1261.0,295.9 L1263.0,294.8 L1265.0,293.9 L1267.0,293.3 L1269.0,292.9 L1271.0,292.8 L1273.0,292.9 L1275.0,293.2 L1277.0,293.8 L1279.0,294.7 L1281.0,295.7 L1283.0,297.1 L1285.0,298.6 L1287.0,300.4 L1289.0,302.4 L1291.0,304.6 L1293.0,306.9 L1295.0,309.4 L1297.0,312.0 L1299.0,314.7 L1301.0,317.6 L1303.0,320.4 L1305.0,323.4 L1307.0,326.3 L1309.0,329.3 L1311.0,332.2 L1313.0,335.1 L1315.0,337.9 L1317.0,340.6 L1319.0,343.3 L1321.0,345.8 L1323.0,348.1 L1325.0,350.3 L1327.0,352.3 L1329.0,354.2 L1331.0,355.9 L1333.0,357.3 L1335.0,358.6 L1337.0,359.7 L1339.0,360.6 L1341.0,361.2 L1343.0,361.7 L1345.0,361.9 L1347.0,362.0 L1349.0,361.9 L1351.0,361.6 L1353.0,361.2 L1355.0,360.6 L1357.0,359.9 L1359.0,359.1 L1361.0,358.1 L1363.0,357.1 L1365.0,356.0 L1367.0,354.9 L1369.0,353.7 L1371.0,352.5 L1373.0,351.3 L1375.0,350.1 L1377.0,349.0 L1379.0,347.9 L1381.0,346.8 L1383.0,345.8 L1385.0,344.9 L1387.0,344.1 L1389.0,343.3 L1391.0,342.7 L1393.0,342.2 L1395.0,341.7 L1397.0,341.4 L1398.8,341.2" fill="none" stroke="#000" stroke-width="1.75" stroke-linejoin="round"/>
<rect x="96.7" y="42.5" width="1364.8" height="399.2" fill="none" stroke="#000" stroke-width="2.8"/>
</g>
<g>
<path d="M97,673.2H1447 M97,732.2H1447 M97,791.2H1447 M97,850.2H1447 M97,909.2H1447" stroke="#f0f0f0" stroke-width="1" fill="none"/>
<path d="M97,643.8H1447 M97,702.8H1447 M97,761.8H1447 M97,820.8H1447 M97,879.8H1447 M97,938.8H1447 M156.2,627V943 M407.1,627V943 M658.0,627V943 M909.0,627V943 M1159.8,627V943 M1410.8,627V943" stroke="#e9e9e9" stroke-width="1.2" fill="none"/>
<path d="M281.7,627V953.75 M532.6,627V953.75 M783.5,627V953.75 M1034.4,627V953.75 M1285.3,627V953.75" stroke="#bcbcbc" stroke-width="2.5" stroke-dasharray="4 11 11 12 11 12 11 12 11 12 11 12 11 12 11 12 11 12 11 12 11 12 11 12 11 12 11 12 11 12" fill="none"/>
<path d="M156.2,927.4 L158.2,927.3 L160.2,927.2 L162.2,927.0 L164.2,926.8 L166.2,926.5 L168.2,926.3 L170.2,926.0 L172.2,925.7 L174.2,925.5 L176.2,925.2 L178.2,925.0 L180.2,924.8 L182.2,924.5 L184.2,924.3 L186.2,924.1 L188.2,923.9 L190.2,923.7 L192.2,923.6 L194.2,923.4 L196.2,923.2 L198.2,923.0 L200.2,922.8 L202.2,922.6 L204.2,922.3 L206.2,922.1 L208.2,921.8 L210.2,921.5 L212.2,921.1 L214.2,920.8 L216.2,920.3 L218.2,919.9 L220.2,919.4 L222.2,918.9 L224.2,918.3 L226.2,917.7 L228.2,917.1 L230.2,916.4 L232.2,915.7 L234.2,914.9 L236.2,914.1 L238.2,913.3 L240.2,912.5 L242.2,911.6 L244.2,910.8 L246.2,909.9 L248.2,909.0 L250.2,908.1 L252.2,907.2 L254.2,906.3 L256.2,905.4 L258.2,904.6 L260.2,903.7 L262.2,902.9 L264.2,902.1 L266.2,901.3 L268.2,900.5 L270.2,899.8 L272.2,899.1 L274.2,898.4 L276.2,897.8 L278.2,897.2 L280.2,896.6 L282.2,896.1 L284.2,895.6 L286.2,895.1 L288.2,894.7 L290.2,894.3 L292.2,893.9 L294.2,893.5 L296.2,893.2 L298.2,892.9 L300.2,892.6 L302.2,892.3 L304.2,892.0 L306.2,891.7 L308.2,891.3 L310.2,891.0 L312.2,890.6 L314.2,890.2 L316.2,889.7 L318.2,889.1 L320.2,888.5 L322.2,887.8 L324.2,887.0 L326.2,886.1 L328.2,885.1 L330.2,883.9 L332.2,882.7 L334.2,881.2 L336.2,879.7 L338.2,878.0 L340.2,876.1 L342.2,874.1 L344.2,871.9 L346.2,869.6 L348.2,867.1 L350.2,864.4 L352.2,861.5 L354.2,858.6 L356.2,855.4 L358.2,852.1 L360.2,848.7 L362.2,845.2 L364.2,841.5 L366.2,837.8 L368.2,833.9 L370.2,830.0 L372.2,826.0 L374.2,822.0 L376.2,818.0 L378.2,813.9 L380.2,809.9 L382.2,805.9 L384.2,802.0 L386.2,798.1 L388.2,794.3 L390.2,790.6 L392.2,787.1 L394.2,783.7 L396.2,780.4 L398.2,777.3 L400.2,774.4 L402.2,771.7 L404.2,769.2 L406.2,767.0 L408.2,764.9 L410.2,763.1 L412.2,761.4 L414.2,760.0 L416.2,758.8 L418.2,757.9 L420.2,757.1 L422.2,756.5 L424.2,756.1 L426.2,755.8 L428.2,755.7 L430.2,755.7 L432.2,755.8 L434.2,756.0 L436.2,756.2 L438.2,756.4 L440.2,756.7 L442.2,756.9 L444.2,757.1 L446.2,757.2 L448.2,757.2 L450.2,757.1 L452.2,756.9 L454.2,756.5 L456.2,755.9 L458.2,755.2 L460.2,754.3 L462.2,753.2 L464.2,751.8 L466.2,750.3 L468.2,748.6 L470.2,746.7 L472.2,744.5 L474.2,742.2 L476.2,739.7 L478.2,737.0 L480.2,734.2 L482.2,731.2 L484.2,728.1 L486.2,724.8 L488.2,721.5 L490.2,718.1 L492.2,714.6 L494.2,711.1 L496.2,707.6 L498.2,704.1 L500.2,700.6 L502.2,697.2 L504.2,693.9 L506.2,690.6 L508.2,687.5 L510.2,684.5 L512.2,681.7 L514.2,679.1 L516.2,676.7 L518.2,674.6 L520.2,672.6 L522.2,671.0 L524.2,669.6 L526.2,668.5 L528.2,667.7 L530.2,667.2 L532.2,667.1 L534.2,667.2 L536.2,667.7 L538.2,668.5 L540.2,669.6 L542.2,671.0 L544.2,672.7 L546.2,674.7 L548.2,676.9 L550.2,679.3 L552.2,682.0 L554.2,684.8 L556.2,687.7 L558.2,690.8 L560.2,694.0 L562.2,697.2 L564.2,700.4 L566.2,703.6 L568.2,706.7 L570.2,709.8 L572.2,712.7 L574.2,715.4 L576.2,717.9 L578.2,720.1 L580.2,722.1 L582.2,723.8 L584.2,725.2 L586.2,726.2 L588.2,726.8 L590.2,727.1 L592.2,727.0 L594.2,726.6 L596.2,725.7 L598.2,724.4 L600.2,722.8 L602.2,720.8 L604.2,718.5 L606.2,715.8 L608.2,712.9 L610.2,709.6 L612.2,706.1 L614.2,702.5 L616.2,698.6 L618.2,694.6 L620.2,690.5 L622.2,686.3 L624.2,682.2 L626.2,678.0 L628.2,674.0 L630.2,670.0 L632.2,666.2 L634.2,662.5 L636.2,659.1 L638.2,655.9 L640.2,653.0 L642.2,650.4 L644.2,648.2 L646.2,646.3 L648.2,644.7 L650.2,643.6 L652.2,642.9 L654.2,642.6 L656.2,642.7 L658.2,643.3 L660.2,644.3 L662.2,645.6 L664.2,647.4 L666.2,649.7 L668.2,652.2 L670.2,655.2 L672.2,658.5 L674.2,662.1 L676.2,666.1 L678.2,670.3 L680.2,674.7 L682.2,679.4 L684.2,684.3 L686.2,689.2 L688.2,694.3 L690.2,699.5 L692.2,704.6 L694.2,709.8 L696.2,714.9 L698.2,719.9 L700.2,724.7 L702.2,729.4 L704.2,733.9 L706.2,738.2 L708.2,742.2 L710.2,745.8 L712.2,749.2 L714.2,752.1 L716.2,754.7 L718.2,756.9 L720.2,758.8 L722.2,760.2 L724.2,761.1 L726.2,761.7 L728.2,761.9 L730.2,761.7 L732.2,761.1 L734.2,760.1 L736.2,758.8 L738.2,757.2 L740.2,755.3 L742.2,753.1 L744.2,750.7 L746.2,748.2 L748.2,745.5 L750.2,742.8 L752.2,739.9 L754.2,737.1 L756.2,734.3 L758.2,731.6 L760.2,729.0 L762.2,726.5 L764.2,724.2 L766.2,722.1 L768.2,720.3 L770.2,718.7 L772.2,717.4 L774.2,716.5 L776.2,715.9 L778.2,715.6 L780.2,715.7 L782.2,716.1 L784.2,716.9 L786.2,718.1 L788.2,719.6 L790.2,721.5 L792.2,723.7 L794.2,726.2 L796.2,728.9 L798.2,732.0 L800.2,735.3 L802.2,738.8 L804.2,742.6 L806.2,746.4 L808.2,750.4 L810.2,754.6 L812.2,758.7 L814.2,762.9 L816.2,767.2 L818.2,771.3 L820.2,775.4 L822.2,779.4 L824.2,783.3 L826.2,787.0 L828.2,790.5 L830.2,793.8 L832.2,796.9 L834.2,799.7 L836.2,802.2 L838.2,804.4 L840.2,806.3 L842.2,807.8 L844.2,809.0 L846.2,809.9 L848.2,810.4 L850.2,810.6 L852.2,810.5 L854.2,810.0 L856.2,809.2 L858.2,808.1 L860.2,806.7 L862.2,805.0 L864.2,803.1 L866.2,801.0 L868.2,798.7 L870.2,796.2 L872.2,793.6 L874.2,790.9 L876.2,788.1 L878.2,785.3 L880.2,782.5 L882.2,779.7 L884.2,777.0 L886.2,774.4 L888.2,771.9 L890.2,769.5 L892.2,767.3 L894.2,765.3 L896.2,763.6 L898.2,762.0 L900.2,760.8 L902.2,759.7 L904.2,759.0 L906.2,758.6 L908.2,758.4 L910.2,758.6 L912.2,759.0 L914.2,759.7 L916.2,760.8 L918.2,762.0 L920.2,763.6 L922.2,765.4 L924.2,767.5 L926.2,769.8 L928.2,772.3 L930.2,775.0 L932.2,777.8 L934.2,780.9 L936.2,784.0 L938.2,787.2 L940.2,790.6 L942.2,794.0 L944.2,797.4 L946.2,800.8 L948.2,804.3 L950.2,807.7 L952.2,811.0 L954.2,814.3 L956.2,817.5 L958.2,820.6 L960.2,823.5 L962.2,826.3 L964.2,828.9 L966.2,831.3 L968.2,833.6 L970.2,835.6 L972.2,837.5 L974.2,839.1 L976.2,840.5 L978.2,841.7 L980.2,842.6 L982.2,843.4 L984.2,843.9 L986.2,844.2 L988.2,844.3 L990.2,844.3 L992.2,844.0 L994.2,843.7 L996.2,843.1 L998.2,842.5 L1000.2,841.7 L1002.2,840.9 L1004.2,840.1 L1006.2,839.2 L1008.2,838.2 L1010.2,837.3 L1012.2,836.4 L1014.2,835.6 L1016.2,834.9 L1018.2,834.2 L1020.2,833.7 L1022.2,833.2 L1024.2,832.9 L1026.2,832.8 L1028.2,832.8 L1030.2,833.0 L1032.2,833.4 L1034.2,833.9 L1036.2,834.6 L1038.2,835.4 L1040.2,836.5 L1042.2,837.7 L1044.2,839.0 L1046.2,840.5 L1048.2,842.2 L1050.2,843.9 L1052.2,845.8 L1054.2,847.8 L1056.2,849.8 L1058.2,852.0 L1060.2,854.2 L1062.2,856.4 L1064.2,858.7 L1066.2,860.9 L1068.2,863.2 L1070.2,865.5 L1072.2,867.7 L1074.2,869.9 L1076.2,872.1 L1078.2,874.2 L1080.2,876.2 L1082.2,878.1 L1084.2,880.0 L1086.2,881.7 L1088.2,883.4 L1090.2,884.9 L1092.2,886.4 L1094.2,887.7 L1096.2,888.9 L1098.2,889.9 L1100.2,890.8 L1102.2,891.7 L1104.2,892.3 L1106.2,892.9 L1108.2,893.3 L1110.2,893.6 L1112.2,893.8 L1114.2,893.8 L1116.2,893.8 L1118.2,893.7 L1120.2,893.4 L1122.2,893.1 L1124.2,892.8 L1126.2,892.3 L1128.2,891.8 L1130.2,891.3 L1132.2,890.7 L1134.2,890.2 L1136.2,889.6 L1138.2,889.0 L1140.2,888.5 L1142.2,888.0 L1144.2,887.5 L1146.2,887.1 L1148.2,886.8 L1150.2,886.6 L1152.2,886.4 L1154.2,886.3 L1156.2,886.3 L1158.2,886.4 L1160.2,886.6 L1162.2,886.9 L1164.2,887.3 L1166.2,887.8 L1168.2,888.4 L1170.2,889.1 L1172.2,889.9 L1174.2,890.7 L1176.2,891.6 L1178.2,892.6 L1180.2,893.6 L1182.2,894.7 L1184.2,895.9 L1186.2,897.0 L1188.2,898.2 L1190.2,899.4 L1192.2,900.6 L1194.2,901.8 L1196.2,903.0 L1198.2,904.1 L1200.2,905.3 L1202.2,906.4 L1204.2,907.4 L1206.2,908.4 L1208.2,909.4 L1210.2,910.3 L1212.2,911.2 L1214.2,912.0 L1216.2,912.8 L1218.2,913.5 L1220.2,914.1 L1222.2,914.6 L1224.2,915.1 L1226.2,915.6 L1228.2,916.0 L1230.2,916.3 L1232.2,916.5 L1234.2,916.7 L1236.2,916.8 L1238.2,916.9 L1240.2,917.0 L1242.2,916.9 L1244.2,916.9 L1246.2,916.8 L1248.2,916.7 L1250.2,916.5 L1252.2,916.3 L1254.2,916.1 L1256.2,915.9 L1258.2,915.7 L1260.2,915.5 L1262.2,915.3 L1264.2,915.1 L1266.2,914.9 L1268.2,914.7 L1270.2,914.5 L1272.2,914.4 L1274.2,914.3 L1276.2,914.2 L1278.2,914.2 L1280.2,914.2 L1282.2,914.2 L1284.2,914.3 L1286.2,914.5 L1288.2,914.6 L1290.2,914.9 L1292.2,915.1 L1294.2,915.4 L1296.2,915.8 L1298.2,916.2 L1300.2,916.6 L1302.2,917.0 L1304.2,917.5 L1306.2,918.0 L1308.2,918.5 L1310.2,919.1 L1312.2,919.6 L1314.2,920.2 L1316.2,920.8 L1318.2,921.4 L1320.2,921.9 L1322.2,922.5 L1324.2,923.1 L1326.2,923.7 L1328.2,924.2 L1330.2,924.8 L1332.2,925.3 L1334.2,925.8 L1336.2,926.3 L1338.2,926.7 L1340.2,927.2 L1342.2,927.6 L1344.2,927.9 L1346.2,928.3 L1348.2,928.6 L1350.2,928.9 L1352.2,929.2 L1354.2,929.4 L1356.2,929.6 L1358.2,929.8 L1360.2,929.9 L1362.2,930.0 L1364.2,930.1 L1366.2,930.1 L1368.2,930.1 L1370.2,930.1 L1372.2,930.1 L1374.2,930.1 L1376.2,930.0 L1378.2,929.9 L1380.2,929.8 L1382.2,929.7 L1384.2,929.6 L1386.2,929.5 L1388.2,929.4 L1390.2,929.3 L1392.2,929.2 L1394.2,929.1 L1396.2,928.9 L1398.2,928.8 L1400.2,928.7 L1402.2,928.5 L1404.2,928.3 L1406.2,928.0 L1408.2,927.6 L1410.0,927.1 L1410.0,938.5 L156.2,938.5 Z" fill="#ffffff" fill-opacity="0.8" stroke="none"/>
<path d="M156.2,927.4 L158.2,927.3 L160.2,927.2 L162.2,927.0 L164.2,926.8 L166.2,926.5 L168.2,926.3 L170.2,926.0 L172.2,925.7 L174.2,925.5 L176.2,925.2 L178.2,925.0 L180.2,924.8 L182.2,924.5 L184.2,924.3 L186.2,924.1 L188.2,923.9 L190.2,923.7 L192.2,923.6 L194.2,923.4 L196.2,923.2 L198.2,923.0 L200.2,922.8 L202.2,922.6 L204.2,922.3 L206.2,922.1 L208.2,921.8 L210.2,921.5 L212.2,921.1 L214.2,920.8 L216.2,920.3 L218.2,919.9 L220.2,919.4 L222.2,918.9 L224.2,918.3 L226.2,917.7 L228.2,917.1 L230.2,916.4 L232.2,915.7 L234.2,914.9 L236.2,914.1 L238.2,913.3 L240.2,912.5 L242.2,911.6 L244.2,910.8 L246.2,909.9 L248.2,909.0 L250.2,908.1 L252.2,907.2 L254.2,906.3 L256.2,905.4 L258.2,904.6 L260.2,903.7 L262.2,902.9 L264.2,902.1 L266.2,901.3 L268.2,900.5 L270.2,899.8 L272.2,899.1 L274.2,898.4 L276.2,897.8 L278.2,897.2 L280.2,896.6 L282.2,896.1 L284.2,895.6 L286.2,895.1 L288.2,894.7 L290.2,894.3 L292.2,893.9 L294.2,893.5 L296.2,893.2 L298.2,892.9 L300.2,892.6 L302.2,892.3 L304.2,892.0 L306.2,891.7 L308.2,891.3 L310.2,891.0 L312.2,890.6 L314.2,890.2 L316.2,889.7 L318.2,889.1 L320.2,888.5 L322.2,887.8 L324.2,887.0 L326.2,886.1 L328.2,885.1 L330.2,883.9 L332.2,882.7 L334.2,881.2 L336.2,879.7 L338.2,878.0 L340.2,876.1 L342.2,874.1 L344.2,871.9 L346.2,869.6 L348.2,867.1 L350.2,864.4 L352.2,861.5 L354.2,858.6 L356.2,855.4 L358.2,852.1 L360.2,848.7 L362.2,845.2 L364.2,841.5 L366.2,837.8 L368.2,833.9 L370.2,830.0 L372.2,826.0 L374.2,822.0 L376.2,818.0 L378.2,813.9 L380.2,809.9 L382.2,805.9 L384.2,802.0 L386.2,798.1 L388.2,794.3 L390.2,790.6 L392.2,787.1 L394.2,783.7 L396.2,780.4 L398.2,777.3 L400.2,774.4 L402.2,771.7 L404.2,769.2 L406.2,767.0 L408.2,764.9 L410.2,763.1 L412.2,761.4 L414.2,760.0 L416.2,758.8 L418.2,757.9 L420.2,757.1 L422.2,756.5 L424.2,756.1 L426.2,755.8 L428.2,755.7 L430.2,755.7 L432.2,755.8 L434.2,756.0 L436.2,756.2 L438.2,756.4 L440.2,756.7 L442.2,756.9 L444.2,757.1 L446.2,757.2 L448.2,757.2 L450.2,757.1 L452.2,756.9 L454.2,756.5 L456.2,755.9 L458.2,755.2 L460.2,754.3 L462.2,753.2 L464.2,751.8 L466.2,750.3 L468.2,748.6 L470.2,746.7 L472.2,744.5 L474.2,742.2 L476.2,739.7 L478.2,737.0 L480.2,734.2 L482.2,731.2 L484.2,728.1 L486.2,724.8 L488.2,721.5 L490.2,718.1 L492.2,714.6 L494.2,711.1 L496.2,707.6 L498.2,704.1 L500.2,700.6 L502.2,697.2 L504.2,693.9 L506.2,690.6 L508.2,687.5 L510.2,684.5 L512.2,681.7 L514.2,679.1 L516.2,676.7 L518.2,674.6 L520.2,672.6 L522.2,671.0 L524.2,669.6 L526.2,668.5 L528.2,667.7 L530.2,667.2 L532.2,667.1 L534.2,667.2 L536.2,667.7 L538.2,668.5 L540.2,669.6 L542.2,671.0 L544.2,672.7 L546.2,674.7 L548.2,676.9 L550.2,679.3 L552.2,682.0 L554.2,684.8 L556.2,687.7 L558.2,690.8 L560.2,694.0 L562.2,697.2 L564.2,700.4 L566.2,703.6 L568.2,706.7 L570.2,709.8 L572.2,712.7 L574.2,715.4 L576.2,717.9 L578.2,720.1 L580.2,722.1 L582.2,723.8 L584.2,725.2 L586.2,726.2 L588.2,726.8 L590.2,727.1 L592.2,727.0 L594.2,726.6 L596.2,725.7 L598.2,724.4 L600.2,722.8 L602.2,720.8 L604.2,718.5 L606.2,715.8 L608.2,712.9 L610.2,709.6 L612.2,706.1 L614.2,702.5 L616.2,698.6 L618.2,694.6 L620.2,690.5 L622.2,686.3 L624.2,682.2 L626.2,678.0 L628.2,674.0 L630.2,670.0 L632.2,666.2 L634.2,662.5 L636.2,659.1 L638.2,655.9 L640.2,653.0 L642.2,650.4 L644.2,648.2 L646.2,646.3 L648.2,644.7 L650.2,643.6 L652.2,642.9 L654.2,642.6 L656.2,642.7 L658.2,643.3 L660.2,644.3 L662.2,645.6 L664.2,647.4 L666.2,649.7 L668.2,652.2 L670.2,655.2 L672.2,658.5 L674.2,662.1 L676.2,666.1 L678.2,670.3 L680.2,674.7 L682.2,679.4 L684.2,684.3 L686.2,689.2 L688.2,694.3 L690.2,699.5 L692.2,704.6 L694.2,709.8 L696.2,714.9 L698.2,719.9 L700.2,724.7 L702.2,729.4 L704.2,733.9 L706.2,738.2 L708.2,742.2 L710.2,745.8 L712.2,749.2 L714.2,752.1 L716.2,754.7 L718.2,756.9 L720.2,758.8 L722.2,760.2 L724.2,761.1 L726.2,761.7 L728.2,761.9 L730.2,761.7 L732.2,761.1 L734.2,760.1 L736.2,758.8 L738.2,757.2 L740.2,755.3 L742.2,753.1 L744.2,750.7 L746.2,748.2 L748.2,745.5 L750.2,742.8 L752.2,739.9 L754.2,737.1 L756.2,734.3 L758.2,731.6 L760.2,729.0 L762.2,726.5 L764.2,724.2 L766.2,722.1 L768.2,720.3 L770.2,718.7 L772.2,717.4 L774.2,716.5 L776.2,715.9 L778.2,715.6 L780.2,715.7 L782.2,716.1 L784.2,716.9 L786.2,718.1 L788.2,719.6 L790.2,721.5 L792.2,723.7 L794.2,726.2 L796.2,728.9 L798.2,732.0 L800.2,735.3 L802.2,738.8 L804.2,742.6 L806.2,746.4 L808.2,750.4 L810.2,754.6 L812.2,758.7 L814.2,762.9 L816.2,767.2 L818.2,771.3 L820.2,775.4 L822.2,779.4 L824.2,783.3 L826.2,787.0 L828.2,790.5 L830.2,793.8 L832.2,796.9 L834.2,799.7 L836.2,802.2 L838.2,804.4 L840.2,806.3 L842.2,807.8 L844.2,809.0 L846.2,809.9 L848.2,810.4 L850.2,810.6 L852.2,810.5 L854.2,810.0 L856.2,809.2 L858.2,808.1 L860.2,806.7 L862.2,805.0 L864.2,803.1 L866.2,801.0 L868.2,798.7 L870.2,796.2 L872.2,793.6 L874.2,790.9 L876.2,788.1 L878.2,785.3 L880.2,782.5 L882.2,779.7 L884.2,777.0 L886.2,774.4 L888.2,771.9 L890.2,769.5 L892.2,767.3 L894.2,765.3 L896.2,763.6 L898.2,762.0 L900.2,760.8 L902.2,759.7 L904.2,759.0 L906.2,758.6 L908.2,758.4 L910.2,758.6 L912.2,759.0 L914.2,759.7 L916.2,760.8 L918.2,762.0 L920.2,763.6 L922.2,765.4 L924.2,767.5 L926.2,769.8 L928.2,772.3 L930.2,775.0 L932.2,777.8 L934.2,780.9 L936.2,784.0 L938.2,787.2 L940.2,790.6 L942.2,794.0 L944.2,797.4 L946.2,800.8 L948.2,804.3 L950.2,807.7 L952.2,811.0 L954.2,814.3 L956.2,817.5 L958.2,820.6 L960.2,823.5 L962.2,826.3 L964.2,828.9 L966.2,831.3 L968.2,833.6 L970.2,835.6 L972.2,837.5 L974.2,839.1 L976.2,840.5 L978.2,841.7 L980.2,842.6 L982.2,843.4 L984.2,843.9 L986.2,844.2 L988.2,844.3 L990.2,844.3 L992.2,844.0 L994.2,843.7 L996.2,843.1 L998.2,842.5 L1000.2,841.7 L1002.2,840.9 L1004.2,840.1 L1006.2,839.2 L1008.2,838.2 L1010.2,837.3 L1012.2,836.4 L1014.2,835.6 L1016.2,834.9 L1018.2,834.2 L1020.2,833.7 L1022.2,833.2 L1024.2,832.9 L1026.2,832.8 L1028.2,832.8 L1030.2,833.0 L1032.2,833.4 L1034.2,833.9 L1036.2,834.6 L1038.2,835.4 L1040.2,836.5 L1042.2,837.7 L1044.2,839.0 L1046.2,840.5 L1048.2,842.2 L1050.2,843.9 L1052.2,845.8 L1054.2,847.8 L1056.2,849.8 L1058.2,852.0 L1060.2,854.2 L1062.2,856.4 L1064.2,858.7 L1066.2,860.9 L1068.2,863.2 L1070.2,865.5 L1072.2,867.7 L1074.2,869.9 L1076.2,872.1 L1078.2,874.2 L1080.2,876.2 L1082.2,878.1 L1084.2,880.0 L1086.2,881.7 L1088.2,883.4 L1090.2,884.9 L1092.2,886.4 L1094.2,887.7 L1096.2,888.9 L1098.2,889.9 L1100.2,890.8 L1102.2,891.7 L1104.2,892.3 L1106.2,892.9 L1108.2,893.3 L1110.2,893.6 L1112.2,893.8 L1114.2,893.8 L1116.2,893.8 L1118.2,893.7 L1120.2,893.4 L1122.2,893.1 L1124.2,892.8 L1126.2,892.3 L1128.2,891.8 L1130.2,891.3 L1132.2,890.7 L1134.2,890.2 L1136.2,889.6 L1138.2,889.0 L1140.2,888.5 L1142.2,888.0 L1144.2,887.5 L1146.2,887.1 L1148.2,886.8 L1150.2,886.6 L1152.2,886.4 L1154.2,886.3 L1156.2,886.3 L1158.2,886.4 L1160.2,886.6 L1162.2,886.9 L1164.2,887.3 L1166.2,887.8 L1168.2,888.4 L1170.2,889.1 L1172.2,889.9 L1174.2,890.7 L1176.2,891.6 L1178.2,892.6 L1180.2,893.6 L1182.2,894.7 L1184.2,895.9 L1186.2,897.0 L1188.2,898.2 L1190.2,899.4 L1192.2,900.6 L1194.2,901.8 L1196.2,903.0 L1198.2,904.1 L1200.2,905.3 L1202.2,906.4 L1204.2,907.4 L1206.2,908.4 L1208.2,909.4 L1210.2,910.3 L1212.2,911.2 L1214.2,912.0 L1216.2,912.8 L1218.2,913.5 L1220.2,914.1 L1222.2,914.6 L1224.2,915.1 L1226.2,915.6 L1228.2,916.0 L1230.2,916.3 L1232.2,916.5 L1234.2,916.7 L1236.2,916.8 L1238.2,916.9 L1240.2,917.0 L1242.2,916.9 L1244.2,916.9 L1246.2,916.8 L1248.2,916.7 L1250.2,916.5 L1252.2,916.3 L1254.2,916.1 L1256.2,915.9 L1258.2,915.7 L1260.2,915.5 L1262.2,915.3 L1264.2,915.1 L1266.2,914.9 L1268.2,914.7 L1270.2,914.5 L1272.2,914.4 L1274.2,914.3 L1276.2,914.2 L1278.2,914.2 L1280.2,914.2 L1282.2,914.2 L1284.2,914.3 L1286.2,914.5 L1288.2,914.6 L1290.2,914.9 L1292.2,915.1 L1294.2,915.4 L1296.2,915.8 L1298.2,916.2 L1300.2,916.6 L1302.2,917.0 L1304.2,917.5 L1306.2,918.0 L1308.2,918.5 L1310.2,919.1 L1312.2,919.6 L1314.2,920.2 L1316.2,920.8 L1318.2,921.4 L1320.2,921.9 L1322.2,922.5 L1324.2,923.1 L1326.2,923.7 L1328.2,924.2 L1330.2,924.8 L1332.2,925.3 L1334.2,925.8 L1336.2,926.3 L1338.2,926.7 L1340.2,927.2 L1342.2,927.6 L1344.2,927.9 L1346.2,928.3 L1348.2,928.6 L1350.2,928.9 L1352.2,929.2 L1354.2,929.4 L1356.2,929.6 L1358.2,929.8 L1360.2,929.9 L1362.2,930.0 L1364.2,930.1 L1366.2,930.1 L1368.2,930.1 L1370.2,930.1 L1372.2,930.1 L1374.2,930.1 L1376.2,930.0 L1378.2,929.9 L1380.2,929.8 L1382.2,929.7 L1384.2,929.6 L1386.2,929.5 L1388.2,929.4 L1390.2,929.3 L1392.2,929.2 L1394.2,929.1 L1396.2,928.9 L1398.2,928.8 L1400.2,928.7 L1402.2,928.5 L1404.2,928.3 L1406.2,928.0 L1408.2,927.6 L1410.0,927.1" fill="none" stroke="#000" stroke-width="1.75" stroke-linejoin="round"/>
<path d="M156.2,934.2 L158.2,934.1 L160.2,934.0 L162.2,933.9 L164.2,933.7 L166.2,933.6 L168.2,933.4 L170.2,933.3 L172.2,933.1 L174.2,933.0 L176.2,932.9 L178.2,932.7 L180.2,932.6 L182.2,932.5 L184.2,932.4 L186.2,932.3 L188.2,932.2 L190.2,932.1 L192.2,932.0 L194.2,931.9 L196.2,931.8 L198.2,931.6 L200.2,931.5 L202.2,931.4 L204.2,931.2 L206.2,931.1 L208.2,930.9 L210.2,930.7 L212.2,930.5 L214.2,930.3 L216.2,930.1 L218.2,929.8 L220.2,929.5 L222.2,929.2 L224.2,928.9 L226.2,928.6 L228.2,928.2 L230.2,927.8 L232.2,927.4 L234.2,927.0 L236.2,926.6 L238.2,926.1 L240.2,925.7 L242.2,925.2 L244.2,924.7 L246.2,924.2 L248.2,923.7 L250.2,923.2 L252.2,922.7 L254.2,922.2 L256.2,921.7 L258.2,921.2 L260.2,920.7 L262.2,920.2 L264.2,919.7 L266.2,919.2 L268.2,918.7 L270.2,918.2 L272.2,917.7 L274.2,917.3 L276.2,916.8 L278.2,916.4 L280.2,916.0 L282.2,915.6 L284.2,915.2 L286.2,914.8 L288.2,914.5 L290.2,914.1 L292.2,913.8 L294.2,913.5 L296.2,913.2 L298.2,912.8 L300.2,912.5 L302.2,912.2 L304.2,911.9 L306.2,911.6 L308.2,911.3 L310.2,910.9 L312.2,910.6 L314.2,910.1 L316.2,909.7 L318.2,909.2 L320.2,908.7 L322.2,908.1 L324.2,907.4 L326.2,906.6 L328.2,905.8 L330.2,904.9 L332.2,903.9 L334.2,902.7 L336.2,901.5 L338.2,900.2 L340.2,898.7 L342.2,897.1 L344.2,895.4 L346.2,893.5 L348.2,891.6 L350.2,889.4 L352.2,887.2 L354.2,884.9 L356.2,882.4 L358.2,879.8 L360.2,877.1 L362.2,874.4 L364.2,871.5 L366.2,868.6 L368.2,865.6 L370.2,862.5 L372.2,859.4 L374.2,856.3 L376.2,853.2 L378.2,850.0 L380.2,846.9 L382.2,843.8 L384.2,840.8 L386.2,837.8 L388.2,834.8 L390.2,832.0 L392.2,829.2 L394.2,826.6 L396.2,824.0 L398.2,821.6 L400.2,819.3 L402.2,817.1 L404.2,815.1 L406.2,813.1 L408.2,811.4 L410.2,809.7 L412.2,808.2 L414.2,806.8 L416.2,805.5 L418.2,804.4 L420.2,803.4 L422.2,802.4 L424.2,801.6 L426.2,800.8 L428.2,800.2 L430.2,799.6 L432.2,799.0 L434.2,798.5 L436.2,798.0 L438.2,797.6 L440.2,797.1 L442.2,796.6 L444.2,796.1 L446.2,795.6 L448.2,795.0 L450.2,794.4 L452.2,793.6 L454.2,792.8 L456.2,791.9 L458.2,790.8 L460.2,789.7 L462.2,788.4 L464.2,786.9 L466.2,785.3 L468.2,783.6 L470.2,781.6 L472.2,779.6 L474.2,777.3 L476.2,774.9 L478.2,772.4 L480.2,769.7 L482.2,766.8 L484.2,763.9 L486.2,760.8 L488.2,757.6 L490.2,754.3 L492.2,750.9 L494.2,747.5 L496.2,744.1 L498.2,740.7 L500.2,737.3 L502.2,733.9 L504.2,730.5 L506.2,727.3 L508.2,724.2 L510.2,721.2 L512.2,718.3 L514.2,715.6 L516.2,713.1 L518.2,710.8 L520.2,708.7 L522.2,706.9 L524.2,705.3 L526.2,704.0 L528.2,702.9 L530.2,702.1 L532.2,701.6 L534.2,701.3 L536.2,701.3 L538.2,701.6 L540.2,702.1 L542.2,702.9 L544.2,703.9 L546.2,705.1 L548.2,706.5 L550.2,708.1 L552.2,709.9 L554.2,711.7 L556.2,713.7 L558.2,715.7 L560.2,717.8 L562.2,719.8 L564.2,721.9 L566.2,723.9 L568.2,725.8 L570.2,727.6 L572.2,729.2 L574.2,730.7 L576.2,731.9 L578.2,733.0 L580.2,733.8 L582.2,734.3 L584.2,734.5 L586.2,734.4 L588.2,734.0 L590.2,733.3 L592.2,732.2 L594.2,730.9 L596.2,729.1 L598.2,727.1 L600.2,724.8 L602.2,722.2 L604.2,719.3 L606.2,716.1 L608.2,712.7 L610.2,709.1 L612.2,705.3 L614.2,701.4 L616.2,697.4 L618.2,693.2 L620.2,689.1 L622.2,684.9 L624.2,680.7 L626.2,676.6 L628.2,672.6 L630.2,668.7 L632.2,664.9 L634.2,661.4 L636.2,658.1 L638.2,655.0 L640.2,652.2 L642.2,649.8 L644.2,647.6 L646.2,645.8 L648.2,644.4 L650.2,643.4 L652.2,642.7 L654.2,642.4 L656.2,642.6 L658.2,643.1 L660.2,644.1 L662.2,645.4 L664.2,647.2 L666.2,649.3 L668.2,651.8 L670.2,654.6 L672.2,657.8 L674.2,661.3 L676.2,665.0 L678.2,669.0 L680.2,673.2 L682.2,677.5 L684.2,682.1 L686.2,686.7 L688.2,691.4 L690.2,696.2 L692.2,700.9 L694.2,705.6 L696.2,710.2 L698.2,714.7 L700.2,719.1 L702.2,723.3 L704.2,727.2 L706.2,730.9 L708.2,734.3 L710.2,737.4 L712.2,740.2 L714.2,742.6 L716.2,744.6 L718.2,746.3 L720.2,747.6 L722.2,748.4 L724.2,748.9 L726.2,749.0 L728.2,748.7 L730.2,748.0 L732.2,747.0 L734.2,745.6 L736.2,744.0 L738.2,742.0 L740.2,739.8 L742.2,737.3 L744.2,734.7 L746.2,731.9 L748.2,728.9 L750.2,725.9 L752.2,722.9 L754.2,719.9 L756.2,716.9 L758.2,714.0 L760.2,711.2 L762.2,708.5 L764.2,706.1 L766.2,703.8 L768.2,701.9 L770.2,700.1 L772.2,698.7 L774.2,697.6 L776.2,696.9 L778.2,696.4 L780.2,696.4 L782.2,696.7 L784.2,697.3 L786.2,698.3 L788.2,699.7 L790.2,701.4 L792.2,703.5 L794.2,705.8 L796.2,708.5 L798.2,711.5 L800.2,714.7 L802.2,718.1 L804.2,721.8 L806.2,725.6 L808.2,729.5 L810.2,733.6 L812.2,737.7 L814.2,741.9 L816.2,746.1 L818.2,750.3 L820.2,754.4 L822.2,758.4 L824.2,762.2 L826.2,765.9 L828.2,769.4 L830.2,772.7 L832.2,775.7 L834.2,778.4 L836.2,780.9 L838.2,783.0 L840.2,784.7 L842.2,786.2 L844.2,787.2 L846.2,787.9 L848.2,788.2 L850.2,788.2 L852.2,787.8 L854.2,787.1 L856.2,786.0 L858.2,784.6 L860.2,782.9 L862.2,780.9 L864.2,778.7 L866.2,776.3 L868.2,773.6 L870.2,770.8 L872.2,767.9 L874.2,764.9 L876.2,761.8 L878.2,758.7 L880.2,755.6 L882.2,752.5 L884.2,749.6 L886.2,746.7 L888.2,744.0 L890.2,741.4 L892.2,739.1 L894.2,737.0 L896.2,735.1 L898.2,733.5 L900.2,732.1 L902.2,731.1 L904.2,730.4 L906.2,730.0 L908.2,729.9 L910.2,730.1 L912.2,730.6 L914.2,731.5 L916.2,732.7 L918.2,734.2 L920.2,735.9 L922.2,738.0 L924.2,740.3 L926.2,742.9 L928.2,745.8 L930.2,748.8 L932.2,752.0 L934.2,755.4 L936.2,759.0 L938.2,762.7 L940.2,766.4 L942.2,770.2 L944.2,774.1 L946.2,778.0 L948.2,781.8 L950.2,785.6 L952.2,789.4 L954.2,793.0 L956.2,796.5 L958.2,799.9 L960.2,803.0 L962.2,806.0 L964.2,808.8 L966.2,811.4 L968.2,813.7 L970.2,815.8 L972.2,817.6 L974.2,819.2 L976.2,820.5 L978.2,821.5 L980.2,822.3 L982.2,822.8 L984.2,823.1 L986.2,823.1 L988.2,822.9 L990.2,822.5 L992.2,821.9 L994.2,821.2 L996.2,820.3 L998.2,819.3 L1000.2,818.2 L1002.2,817.0 L1004.2,815.8 L1006.2,814.6 L1008.2,813.3 L1010.2,812.1 L1012.2,811.0 L1014.2,809.9 L1016.2,808.9 L1018.2,808.1 L1020.2,807.4 L1022.2,806.8 L1024.2,806.4 L1026.2,806.1 L1028.2,806.1 L1030.2,806.2 L1032.2,806.6 L1034.2,807.1 L1036.2,807.9 L1038.2,808.8 L1040.2,809.9 L1042.2,811.3 L1044.2,812.8 L1046.2,814.5 L1048.2,816.3 L1050.2,818.3 L1052.2,820.5 L1054.2,822.7 L1056.2,825.1 L1058.2,827.6 L1060.2,830.1 L1062.2,832.8 L1064.2,835.4 L1066.2,838.1 L1068.2,840.9 L1070.2,843.6 L1072.2,846.3 L1074.2,849.0 L1076.2,851.6 L1078.2,854.2 L1080.2,856.7 L1082.2,859.1 L1084.2,861.4 L1086.2,863.6 L1088.2,865.7 L1090.2,867.6 L1092.2,869.5 L1094.2,871.1 L1096.2,872.7 L1098.2,874.0 L1100.2,875.3 L1102.2,876.3 L1104.2,877.2 L1106.2,878.0 L1108.2,878.6 L1110.2,879.1 L1112.2,879.4 L1114.2,879.6 L1116.2,879.7 L1118.2,879.7 L1120.2,879.6 L1122.2,879.4 L1124.2,879.1 L1126.2,878.7 L1128.2,878.3 L1130.2,877.9 L1132.2,877.4 L1134.2,877.0 L1136.2,876.5 L1138.2,876.1 L1140.2,875.7 L1142.2,875.4 L1144.2,875.1 L1146.2,874.8 L1148.2,874.7 L1150.2,874.6 L1152.2,874.6 L1154.2,874.8 L1156.2,875.0 L1158.2,875.3 L1160.2,875.7 L1162.2,876.2 L1164.2,876.9 L1166.2,877.6 L1168.2,878.4 L1170.2,879.3 L1172.2,880.2 L1174.2,881.3 L1176.2,882.4 L1178.2,883.6 L1180.2,884.8 L1182.2,886.1 L1184.2,887.4 L1186.2,888.7 L1188.2,890.1 L1190.2,891.4 L1192.2,892.8 L1194.2,894.1 L1196.2,895.5 L1198.2,896.8 L1200.2,898.1 L1202.2,899.4 L1204.2,900.6 L1206.2,901.8 L1208.2,902.9 L1210.2,904.0 L1212.2,905.0 L1214.2,906.0 L1216.2,906.9 L1218.2,907.7 L1220.2,908.5 L1222.2,909.2 L1224.2,909.8 L1226.2,910.3 L1228.2,910.8 L1230.2,911.3 L1232.2,911.6 L1234.2,911.9 L1236.2,912.1 L1238.2,912.3 L1240.2,912.4 L1242.2,912.4 L1244.2,912.4 L1246.2,912.4 L1248.2,912.3 L1250.2,912.1 L1252.2,911.9 L1254.2,911.7 L1256.2,911.5 L1258.2,911.3 L1260.2,911.1 L1262.2,910.8 L1264.2,910.6 L1266.2,910.3 L1268.2,910.1 L1270.2,909.9 L1272.2,909.8 L1274.2,909.6 L1276.2,909.5 L1278.2,909.5 L1280.2,909.5 L1282.2,909.5 L1284.2,909.5 L1286.2,909.7 L1288.2,909.8 L1290.2,910.0 L1292.2,910.3 L1294.2,910.6 L1296.2,910.9 L1298.2,911.3 L1300.2,911.7 L1302.2,912.1 L1304.2,912.6 L1306.2,913.1 L1308.2,913.6 L1310.2,914.1 L1312.2,914.7 L1314.2,915.2 L1316.2,915.8 L1318.2,916.4 L1320.2,917.0 L1322.2,917.6 L1324.2,918.1 L1326.2,918.7 L1328.2,919.3 L1330.2,919.8 L1332.2,920.3 L1334.2,920.8 L1336.2,921.3 L1338.2,921.8 L1340.2,922.2 L1342.2,922.7 L1344.2,923.1 L1346.2,923.4 L1348.2,923.8 L1350.2,924.1 L1352.2,924.4 L1354.2,924.6 L1356.2,924.8 L1358.2,925.0 L1360.2,925.2 L1362.2,925.3 L1364.2,925.5 L1366.2,925.5 L1368.2,925.6 L1370.2,925.6 L1372.2,925.7 L1374.2,925.7 L1376.2,925.6 L1378.2,925.6 L1380.2,925.5 L1382.2,925.5 L1384.2,925.4 L1386.2,925.4 L1388.2,925.3 L1390.2,925.2 L1392.2,925.2 L1394.2,925.1 L1396.2,925.1 L1398.2,925.1 L1400.2,925.0 L1402.2,925.0 L1404.2,924.9 L1406.2,924.8 L1408.2,924.5 L1410.0,924.2 L1410.0,938.5 L156.2,938.5 Z" fill="#ff0000" fill-opacity="0.8" stroke="none"/>
<path d="M156.2,934.2 L158.2,934.1 L160.2,934.0 L162.2,933.9 L164.2,933.7 L166.2,933.6 L168.2,933.4 L170.2,933.3 L172.2,933.1 L174.2,933.0 L176.2,932.9 L178.2,932.7 L180.2,932.6 L182.2,932.5 L184.2,932.4 L186.2,932.3 L188.2,932.2 L190.2,932.1 L192.2,932.0 L194.2,931.9 L196.2,931.8 L198.2,931.6 L200.2,931.5 L202.2,931.4 L204.2,931.2 L206.2,931.1 L208.2,930.9 L210.2,930.7 L212.2,930.5 L214.2,930.3 L216.2,930.1 L218.2,929.8 L220.2,929.5 L222.2,929.2 L224.2,928.9 L226.2,928.6 L228.2,928.2 L230.2,927.8 L232.2,927.4 L234.2,927.0 L236.2,926.6 L238.2,926.1 L240.2,925.7 L242.2,925.2 L244.2,924.7 L246.2,924.2 L248.2,923.7 L250.2,923.2 L252.2,922.7 L254.2,922.2 L256.2,921.7 L258.2,921.2 L260.2,920.7 L262.2,920.2 L264.2,919.7 L266.2,919.2 L268.2,918.7 L270.2,918.2 L272.2,917.7 L274.2,917.3 L276.2,916.8 L278.2,916.4 L280.2,916.0 L282.2,915.6 L284.2,915.2 L286.2,914.8 L288.2,914.5 L290.2,914.1 L292.2,913.8 L294.2,913.5 L296.2,913.2 L298.2,912.8 L300.2,912.5 L302.2,912.2 L304.2,911.9 L306.2,911.6 L308.2,911.3 L310.2,910.9 L312.2,910.6 L314.2,910.1 L316.2,909.7 L318.2,909.2 L320.2,908.7 L322.2,908.1 L324.2,907.4 L326.2,906.6 L328.2,905.8 L330.2,904.9 L332.2,903.9 L334.2,902.7 L336.2,901.5 L338.2,900.2 L340.2,898.7 L342.2,897.1 L344.2,895.4 L346.2,893.5 L348.2,891.6 L350.2,889.4 L352.2,887.2 L354.2,884.9 L356.2,882.4 L358.2,879.8 L360.2,877.1 L362.2,874.4 L364.2,871.5 L366.2,868.6 L368.2,865.6 L370.2,862.5 L372.2,859.4 L374.2,856.3 L376.2,853.2 L378.2,850.0 L380.2,846.9 L382.2,843.8 L384.2,840.8 L386.2,837.8 L388.2,834.8 L390.2,832.0 L392.2,829.2 L394.2,826.6 L396.2,824.0 L398.2,821.6 L400.2,819.3 L402.2,817.1 L404.2,815.1 L406.2,813.1 L408.2,811.4 L410.2,809.7 L412.2,808.2 L414.2,806.8 L416.2,805.5 L418.2,804.4 L420.2,803.4 L422.2,802.4 L424.2,801.6 L426.2,800.8 L428.2,800.2 L430.2,799.6 L432.2,799.0 L434.2,798.5 L436.2,798.0 L438.2,797.6 L440.2,797.1 L442.2,796.6 L444.2,796.1 L446.2,795.6 L448.2,795.0 L450.2,794.4 L452.2,793.6 L454.2,792.8 L456.2,791.9 L458.2,790.8 L460.2,789.7 L462.2,788.4 L464.2,786.9 L466.2,785.3 L468.2,783.6 L470.2,781.6 L472.2,779.6 L474.2,777.3 L476.2,774.9 L478.2,772.4 L480.2,769.7 L482.2,766.8 L484.2,763.9 L486.2,760.8 L488.2,757.6 L490.2,754.3 L492.2,750.9 L494.2,747.5 L496.2,744.1 L498.2,740.7 L500.2,737.3 L502.2,733.9 L504.2,730.5 L506.2,727.3 L508.2,724.2 L510.2,721.2 L512.2,718.3 L514.2,715.6 L516.2,713.1 L518.2,710.8 L520.2,708.7 L522.2,706.9 L524.2,705.3 L526.2,704.0 L528.2,702.9 L530.2,702.1 L532.2,701.6 L534.2,701.3 L536.2,701.3 L538.2,701.6 L540.2,702.1 L542.2,702.9 L544.2,703.9 L546.2,705.1 L548.2,706.5 L550.2,708.1 L552.2,709.9 L554.2,711.7 L556.2,713.7 L558.2,715.7 L560.2,717.8 L562.2,719.8 L564.2,721.9 L566.2,723.9 L568.2,725.8 L570.2,727.6 L572.2,729.2 L574.2,730.7 L576.2,731.9 L578.2,733.0 L580.2,733.8 L582.2,734.3 L584.2,734.5 L586.2,734.4 L588.2,734.0 L590.2,733.3 L592.2,732.2 L594.2,730.9 L596.2,729.1 L598.2,727.1 L600.2,724.8 L602.2,722.2 L604.2,719.3 L606.2,716.1 L608.2,712.7 L610.2,709.1 L612.2,705.3 L614.2,701.4 L616.2,697.4 L618.2,693.2 L620.2,689.1 L622.2,684.9 L624.2,680.7 L626.2,676.6 L628.2,672.6 L630.2,668.7 L632.2,664.9 L634.2,661.4 L636.2,658.1 L638.2,655.0 L640.2,652.2 L642.2,649.8 L644.2,647.6 L646.2,645.8 L648.2,644.4 L650.2,643.4 L652.2,642.7 L654.2,642.4 L656.2,642.6 L658.2,643.1 L660.2,644.1 L662.2,645.4 L664.2,647.2 L666.2,649.3 L668.2,651.8 L670.2,654.6 L672.2,657.8 L674.2,661.3 L676.2,665.0 L678.2,669.0 L680.2,673.2 L682.2,677.5 L684.2,682.1 L686.2,686.7 L688.2,691.4 L690.2,696.2 L692.2,700.9 L694.2,705.6 L696.2,710.2 L698.2,714.7 L700.2,719.1 L702.2,723.3 L704.2,727.2 L706.2,730.9 L708.2,734.3 L710.2,737.4 L712.2,740.2 L714.2,742.6 L716.2,744.6 L718.2,746.3 L720.2,747.6 L722.2,748.4 L724.2,748.9 L726.2,749.0 L728.2,748.7 L730.2,748.0 L732.2,747.0 L734.2,745.6 L736.2,744.0 L738.2,742.0 L740.2,739.8 L742.2,737.3 L744.2,734.7 L746.2,731.9 L748.2,728.9 L750.2,725.9 L752.2,722.9 L754.2,719.9 L756.2,716.9 L758.2,714.0 L760.2,711.2 L762.2,708.5 L764.2,706.1 L766.2,703.8 L768.2,701.9 L770.2,700.1 L772.2,698.7 L774.2,697.6 L776.2,696.9 L778.2,696.4 L780.2,696.4 L782.2,696.7 L784.2,697.3 L786.2,698.3 L788.2,699.7 L790.2,701.4 L792.2,703.5 L794.2,705.8 L796.2,708.5 L798.2,711.5 L800.2,714.7 L802.2,718.1 L804.2,721.8 L806.2,725.6 L808.2,729.5 L810.2,733.6 L812.2,737.7 L814.2,741.9 L816.2,746.1 L818.2,750.3 L820.2,754.4 L822.2,758.4 L824.2,762.2 L826.2,765.9 L828.2,769.4 L830.2,772.7 L832.2,775.7 L834.2,778.4 L836.2,780.9 L838.2,783.0 L840.2,784.7 L842.2,786.2 L844.2,787.2 L846.2,787.9 L848.2,788.2 L850.2,788.2 L852.2,787.8 L854.2,787.1 L856.2,786.0 L858.2,784.6 L860.2,782.9 L862.2,780.9 L864.2,778.7 L866.2,776.3 L868.2,773.6 L870.2,770.8 L872.2,767.9 L874.2,764.9 L876.2,761.8 L878.2,758.7 L880.2,755.6 L882.2,752.5 L884.2,749.6 L886.2,746.7 L888.2,744.0 L890.2,741.4 L892.2,739.1 L894.2,737.0 L896.2,735.1 L898.2,733.5 L900.2,732.1 L902.2,731.1 L904.2,730.4 L906.2,730.0 L908.2,729.9 L910.2,730.1 L912.2,730.6 L914.2,731.5 L916.2,732.7 L918.2,734.2 L920.2,735.9 L922.2,738.0 L924.2,740.3 L926.2,742.9 L928.2,745.8 L930.2,748.8 L932.2,752.0 L934.2,755.4 L936.2,759.0 L938.2,762.7 L940.2,766.4 L942.2,770.2 L944.2,774.1 L946.2,778.0 L948.2,781.8 L950.2,785.6 L952.2,789.4 L954.2,793.0 L956.2,796.5 L958.2,799.9 L960.2,803.0 L962.2,806.0 L964.2,808.8 L966.2,811.4 L968.2,813.7 L970.2,815.8 L972.2,817.6 L974.2,819.2 L976.2,820.5 L978.2,821.5 L980.2,822.3 L982.2,822.8 L984.2,823.1 L986.2,823.1 L988.2,822.9 L990.2,822.5 L992.2,821.9 L994.2,821.2 L996.2,820.3 L998.2,819.3 L1000.2,818.2 L1002.2,817.0 L1004.2,815.8 L1006.2,814.6 L1008.2,813.3 L1010.2,812.1 L1012.2,811.0 L1014.2,809.9 L1016.2,808.9 L1018.2,808.1 L1020.2,807.4 L1022.2,806.8 L1024.2,806.4 L1026.2,806.1 L1028.2,806.1 L1030.2,806.2 L1032.2,806.6 L1034.2,807.1 L1036.2,807.9 L1038.2,808.8 L1040.2,809.9 L1042.2,811.3 L1044.2,812.8 L1046.2,814.5 L1048.2,816.3 L1050.2,818.3 L1052.2,820.5 L1054.2,822.7 L1056.2,825.1 L1058.2,827.6 L1060.2,830.1 L1062.2,832.8 L1064.2,835.4 L1066.2,838.1 L1068.2,840.9 L1070.2,843.6 L1072.2,846.3 L1074.2,849.0 L1076.2,851.6 L1078.2,854.2 L1080.2,856.7 L1082.2,859.1 L1084.2,861.4 L1086.2,863.6 L1088.2,865.7 L1090.2,867.6 L1092.2,869.5 L1094.2,871.1 L1096.2,872.7 L1098.2,874.0 L1100.2,875.3 L1102.2,876.3 L1104.2,877.2 L1106.2,878.0 L1108.2,878.6 L1110.2,879.1 L1112.2,879.4 L1114.2,879.6 L1116.2,879.7 L1118.2,879.7 L1120.2,879.6 L1122.2,879.4 L1124.2,879.1 L1126.2,878.7 L1128.2,878.3 L1130.2,877.9 L1132.2,877.4 L1134.2,877.0 L1136.2,876.5 L1138.2,876.1 L1140.2,875.7 L1142.2,875.4 L1144.2,875.1 L1146.2,874.8 L1148.2,874.7 L1150.2,874.6 L1152.2,874.6 L1154.2,874.8 L1156.2,875.0 L1158.2,875.3 L1160.2,875.7 L1162.2,876.2 L1164.2,876.9 L1166.2,877.6 L1168.2,878.4 L1170.2,879.3 L1172.2,880.2 L1174.2,881.3 L1176.2,882.4 L1178.2,883.6 L1180.2,884.8 L1182.2,886.1 L1184.2,887.4 L1186.2,888.7 L1188.2,890.1 L1190.2,891.4 L1192.2,892.8 L1194.2,894.1 L1196.2,895.5 L1198.2,896.8 L1200.2,898.1 L1202.2,899.4 L1204.2,900.6 L1206.2,901.8 L1208.2,902.9 L1210.2,904.0 L1212.2,905.0 L1214.2,906.0 L1216.2,906.9 L1218.2,907.7 L1220.2,908.5 L1222.2,909.2 L1224.2,909.8 L1226.2,910.3 L1228.2,910.8 L1230.2,911.3 L1232.2,911.6 L1234.2,911.9 L1236.2,912.1 L1238.2,912.3 L1240.2,912.4 L1242.2,912.4 L1244.2,912.4 L1246.2,912.4 L1248.2,912.3 L1250.2,912.1 L1252.2,911.9 L1254.2,911.7 L1256.2,911.5 L1258.2,911.3 L1260.2,911.1 L1262.2,910.8 L1264.2,910.6 L1266.2,910.3 L1268.2,910.1 L1270.2,909.9 L1272.2,909.8 L1274.2,909.6 L1276.2,909.5 L1278.2,909.5 L1280.2,909.5 L1282.2,909.5 L1284.2,909.5 L1286.2,909.7 L1288.2,909.8 L1290.2,910.0 L1292.2,910.3 L1294.2,910.6 L1296.2,910.9 L1298.2,911.3 L1300.2,911.7 L1302.2,912.1 L1304.2,912.6 L1306.2,913.1 L1308.2,913.6 L1310.2,914.1 L1312.2,914.7 L1314.2,915.2 L1316.2,915.8 L1318.2,916.4 L1320.2,917.0 L1322.2,917.6 L1324.2,918.1 L1326.2,918.7 L1328.2,919.3 L1330.2,919.8 L1332.2,920.3 L1334.2,920.8 L1336.2,921.3 L1338.2,921.8 L1340.2,922.2 L1342.2,922.7 L1344.2,923.1 L1346.2,923.4 L1348.2,923.8 L1350.2,924.1 L1352.2,924.4 L1354.2,924.6 L1356.2,924.8 L1358.2,925.0 L1360.2,925.2 L1362.2,925.3 L1364.2,925.5 L1366.2,925.5 L1368.2,925.6 L1370.2,925.6 L1372.2,925.7 L1374.2,925.7 L1376.2,925.6 L1378.2,925.6 L1380.2,925.5 L1382.2,925.5 L1384.2,925.4 L1386.2,925.4 L1388.2,925.3 L1390.2,925.2 L1392.2,925.2 L1394.2,925.1 L1396.2,925.1 L1398.2,925.1 L1400.2,925.0 L1402.2,925.0 L1404.2,924.9 L1406.2,924.8 L1408.2,924.5 L1410.0,924.2" fill="none" stroke="#000" stroke-width="1.75" stroke-linejoin="round"/>
<rect x="95.6" y="546.9" width="1365.3" height="398.7" fill="none" stroke="#000" stroke-width="2.8"/>
</g>
<g>
<path d="M97,1166.8H1459 M97,1222.5H1459 M97,1278.2H1459 M97,1334.0H1459 M97,1389.8H1459 M97,1445.5H1459 M151.2,1134V1458 M403.8,1134V1458 M656.2,1134V1458 M908.8,1134V1458 M1161.2,1134V1458 M1413.8,1134V1458" stroke="#eeeeee" stroke-width="1.2" fill="none"/>
<path d="M277.5,1134V1460 M530.0,1134V1460 M782.5,1134V1460 M1035.0,1134V1460 M1287.5,1134V1460" stroke="#c2c2c2" stroke-width="2.2" stroke-dasharray="4 11 11 12 11 12 11 12 11 12 11 12 11 12 11 12 11 12 11 12 11 12 11 12 11 12 11 12 11 12" fill="none"/>
<path d="M151.2,1424.8 L153.2,1423.7 L155.2,1422.6 L157.2,1421.5 L159.2,1420.3 L161.2,1419.1 L163.2,1417.9 L165.2,1416.6 L167.2,1415.3 L169.2,1414.0 L171.2,1412.7 L173.2,1411.4 L175.2,1410.1 L177.2,1408.7 L179.2,1407.4 L181.2,1406.1 L183.2,1404.7 L185.2,1403.4 L187.2,1402.1 L189.2,1400.8 L191.2,1399.5 L193.2,1398.3 L195.2,1397.0 L197.2,1395.8 L199.2,1394.6 L201.2,1393.5 L203.2,1392.3 L205.2,1391.2 L207.2,1390.1 L209.2,1389.0 L211.2,1387.9 L213.2,1386.9 L215.2,1385.9 L217.2,1384.8 L219.2,1383.8 L221.2,1382.8 L223.2,1381.9 L225.2,1380.9 L227.2,1379.9 L229.2,1379.0 L231.2,1378.0 L233.2,1377.1 L235.2,1376.1 L237.2,1375.2 L239.2,1374.3 L241.2,1373.3 L243.2,1372.4 L245.2,1371.5 L247.2,1370.7 L249.2,1369.8 L251.2,1368.9 L253.2,1368.1 L255.2,1367.2 L257.2,1366.4 L259.2,1365.6 L261.2,1364.8 L263.2,1364.0 L265.2,1363.3 L267.2,1362.6 L269.2,1361.9 L271.2,1361.2 L273.2,1360.5 L275.2,1359.9 L277.2,1359.3 L279.2,1358.7 L281.2,1358.1 L283.2,1357.6 L285.2,1357.1 L287.2,1356.6 L289.2,1356.2 L291.2,1355.7 L293.2,1355.3 L295.2,1354.9 L297.2,1354.5 L299.2,1354.1 L301.2,1353.7 L303.2,1353.3 L305.2,1352.8 L307.2,1352.4 L309.2,1351.9 L311.2,1351.3 L313.2,1350.7 L315.2,1350.1 L317.2,1349.3 L319.2,1348.5 L321.2,1347.6 L323.2,1346.5 L325.2,1345.3 L327.2,1344.0 L329.2,1342.5 L331.2,1340.8 L333.2,1339.0 L335.2,1337.0 L337.2,1334.7 L339.2,1332.3 L341.2,1329.7 L343.2,1326.9 L345.2,1323.8 L347.2,1320.6 L349.2,1317.1 L351.2,1313.5 L353.2,1309.6 L355.2,1305.6 L357.2,1301.3 L359.2,1296.9 L361.2,1292.4 L363.2,1287.7 L365.2,1282.8 L367.2,1277.9 L369.2,1272.9 L371.2,1267.8 L373.2,1262.7 L375.2,1257.5 L377.2,1252.4 L379.2,1247.2 L381.2,1242.1 L383.2,1237.1 L385.2,1232.2 L387.2,1227.4 L389.2,1222.7 L391.2,1218.1 L393.2,1213.7 L395.2,1209.4 L397.2,1205.4 L399.2,1201.5 L401.2,1197.8 L403.2,1194.3 L405.2,1190.9 L407.2,1187.8 L409.2,1184.9 L411.2,1182.2 L413.2,1179.6 L415.2,1177.2 L417.2,1175.0 L419.2,1173.0 L421.2,1171.1 L423.2,1169.3 L425.2,1167.7 L427.2,1166.2 L429.2,1164.8 L431.2,1163.5 L433.2,1162.3 L435.2,1161.2 L437.2,1160.1 L439.2,1159.2 L441.2,1158.3 L443.2,1157.4 L445.2,1156.7 L447.2,1155.9 L449.2,1155.2 L451.2,1154.6 L453.2,1154.0 L455.2,1153.4 L457.2,1152.9 L459.2,1152.4 L461.2,1152.0 L463.2,1151.5 L465.2,1151.1 L467.2,1150.7 L469.2,1150.4 L471.2,1150.0 L473.2,1149.7 L475.2,1149.4 L477.2,1149.2 L479.2,1148.9 L481.2,1148.7 L483.2,1148.5 L485.2,1148.4 L487.2,1148.3 L489.2,1148.2 L491.2,1148.2 L493.2,1148.3 L495.2,1148.4 L497.2,1148.6 L499.2,1148.9 L501.2,1149.2 L503.2,1149.7 L505.2,1150.3 L507.2,1151.0 L509.2,1151.8 L511.2,1152.8 L513.2,1153.9 L515.2,1155.1 L517.2,1156.5 L519.2,1158.0 L521.2,1159.7 L523.2,1161.5 L525.2,1163.5 L527.2,1165.6 L529.2,1167.9 L531.2,1170.3 L533.2,1172.8 L535.2,1175.5 L537.2,1178.2 L539.2,1181.1 L541.2,1184.1 L543.2,1187.1 L545.2,1190.2 L547.2,1193.3 L549.2,1196.4 L551.2,1199.6 L553.2,1202.8 L555.2,1205.9 L557.2,1209.0 L559.2,1212.1 L561.2,1215.0 L563.2,1217.9 L565.2,1220.7 L567.2,1223.3 L569.2,1225.8 L571.2,1228.1 L573.2,1230.3 L575.2,1232.3 L577.2,1234.0 L579.2,1235.6 L581.2,1236.9 L583.2,1237.9 L585.2,1238.8 L587.2,1239.3 L589.2,1239.7 L591.2,1239.7 L593.2,1239.5 L595.2,1239.1 L597.2,1238.3 L599.2,1237.4 L601.2,1236.2 L603.2,1234.8 L605.2,1233.1 L607.2,1231.3 L609.2,1229.3 L611.2,1227.1 L613.2,1224.9 L615.2,1222.5 L617.2,1220.0 L619.2,1217.5 L621.2,1214.9 L623.2,1212.4 L625.2,1209.9 L627.2,1207.5 L629.2,1205.2 L631.2,1203.0 L633.2,1201.0 L635.2,1199.2 L637.2,1197.6 L639.2,1196.2 L641.2,1195.1 L643.2,1194.3 L645.2,1193.9 L647.2,1193.7 L649.2,1193.9 L651.2,1194.4 L653.2,1195.3 L655.2,1196.5 L657.2,1198.1 L659.2,1200.0 L661.2,1202.3 L663.2,1204.9 L665.2,1207.8 L667.2,1211.0 L669.2,1214.5 L671.2,1218.2 L673.2,1222.2 L675.2,1226.4 L677.2,1230.7 L679.2,1235.2 L681.2,1239.8 L683.2,1244.4 L685.2,1249.1 L687.2,1253.9 L689.2,1258.6 L691.2,1263.3 L693.2,1268.0 L695.2,1272.5 L697.2,1276.9 L699.2,1281.2 L701.2,1285.4 L703.2,1289.3 L705.2,1293.1 L707.2,1296.7 L709.2,1300.1 L711.2,1303.2 L713.2,1306.1 L715.2,1308.8 L717.2,1311.2 L719.2,1313.4 L721.2,1315.4 L723.2,1317.2 L725.2,1318.7 L727.2,1320.0 L729.2,1321.1 L731.2,1321.9 L733.2,1322.6 L735.2,1323.1 L737.2,1323.4 L739.2,1323.6 L741.2,1323.5 L743.2,1323.4 L745.2,1323.1 L747.2,1322.7 L749.2,1322.3 L751.2,1321.7 L753.2,1321.1 L755.2,1320.4 L757.2,1319.7 L759.2,1319.0 L761.2,1318.3 L763.2,1317.7 L765.2,1317.0 L767.2,1316.4 L769.2,1315.9 L771.2,1315.5 L773.2,1315.2 L775.2,1315.0 L777.2,1314.9 L779.2,1314.9 L781.2,1315.1 L783.2,1315.4 L785.2,1315.9 L787.2,1316.5 L789.2,1317.3 L791.2,1318.2 L793.2,1319.2 L795.2,1320.4 L797.2,1321.7 L799.2,1323.1 L801.2,1324.6 L803.2,1326.2 L805.2,1327.8 L807.2,1329.5 L809.2,1331.2 L811.2,1333.0 L813.2,1334.7 L815.2,1336.5 L817.2,1338.1 L819.2,1339.8 L821.2,1341.4 L823.2,1342.9 L825.2,1344.3 L827.2,1345.7 L829.2,1346.9 L831.2,1348.1 L833.2,1349.1 L835.2,1350.0 L837.2,1350.8 L839.2,1351.5 L841.2,1352.0 L843.2,1352.5 L845.2,1352.8 L847.2,1353.1 L849.2,1353.2 L851.2,1353.2 L853.2,1353.2 L855.2,1353.1 L857.2,1352.9 L859.2,1352.6 L861.2,1352.3 L863.2,1351.9 L865.2,1351.5 L867.2,1351.1 L869.2,1350.6 L871.2,1350.1 L873.2,1349.6 L875.2,1349.2 L877.2,1348.7 L879.2,1348.2 L881.2,1347.7 L883.2,1347.3 L885.2,1346.9 L887.2,1346.6 L889.2,1346.3 L891.2,1346.1 L893.2,1346.0 L895.2,1345.9 L897.2,1345.9 L899.2,1346.1 L901.2,1346.3 L903.2,1346.6 L905.2,1347.0 L907.2,1347.5 L909.2,1348.1 L911.2,1348.8 L913.2,1349.7 L915.2,1350.6 L917.2,1351.6 L919.2,1352.8 L921.2,1354.0 L923.2,1355.2 L925.2,1356.6 L927.2,1358.0 L929.2,1359.4 L931.2,1360.9 L933.2,1362.4 L935.2,1363.9 L937.2,1365.5 L939.2,1367.0 L941.2,1368.5 L943.2,1369.9 L945.2,1371.3 L947.2,1372.7 L949.2,1374.0 L951.2,1375.2 L953.2,1376.4 L955.2,1377.4 L957.2,1378.4 L959.2,1379.3 L961.2,1380.2 L963.2,1380.9 L965.2,1381.6 L967.2,1382.1 L969.2,1382.6 L971.2,1383.0 L973.2,1383.3 L975.2,1383.6 L977.2,1383.8 L979.2,1383.9 L981.2,1384.0 L983.2,1384.0 L985.2,1384.0 L987.2,1383.9 L989.2,1383.8 L991.2,1383.7 L993.2,1383.6 L995.2,1383.4 L997.2,1383.2 L999.2,1383.0 L1001.2,1382.8 L1003.2,1382.6 L1005.2,1382.5 L1007.2,1382.3 L1009.2,1382.2 L1011.2,1382.0 L1013.2,1382.0 L1015.2,1381.9 L1017.2,1381.9 L1019.2,1381.9 L1021.2,1382.0 L1023.2,1382.2 L1025.2,1382.4 L1027.2,1382.7 L1029.2,1383.0 L1031.2,1383.4 L1033.2,1383.9 L1035.2,1384.4 L1037.2,1385.0 L1039.2,1385.7 L1041.2,1386.5 L1043.2,1387.3 L1045.2,1388.2 L1047.2,1389.2 L1049.2,1390.2 L1051.2,1391.2 L1053.2,1392.3 L1055.2,1393.5 L1057.2,1394.6 L1059.2,1395.8 L1061.2,1397.0 L1063.2,1398.2 L1065.2,1399.4 L1067.2,1400.6 L1069.2,1401.8 L1071.2,1403.0 L1073.2,1404.1 L1075.2,1405.2 L1077.2,1406.2 L1079.2,1407.2 L1081.2,1408.1 L1083.2,1409.0 L1085.2,1409.9 L1087.2,1410.7 L1089.2,1411.4 L1091.2,1412.0 L1093.2,1412.6 L1095.2,1413.2 L1097.2,1413.7 L1099.2,1414.1 L1101.2,1414.5 L1103.2,1414.9 L1105.2,1415.2 L1107.2,1415.5 L1109.2,1415.7 L1111.2,1415.9 L1113.2,1416.1 L1115.2,1416.2 L1117.2,1416.4 L1119.2,1416.5 L1121.2,1416.6 L1123.2,1416.6 L1125.2,1416.7 L1127.2,1416.8 L1129.2,1416.9 L1131.2,1416.9 L1133.2,1417.0 L1135.2,1417.1 L1137.2,1417.2 L1139.2,1417.3 L1141.2,1417.4 L1143.2,1417.6 L1145.2,1417.7 L1147.2,1417.9 L1149.2,1418.1 L1151.2,1418.3 L1153.2,1418.5 L1155.2,1418.8 L1157.2,1419.1 L1159.2,1419.4 L1161.2,1419.7 L1163.2,1420.1 L1165.2,1420.5 L1167.2,1420.9 L1169.2,1421.4 L1171.2,1421.9 L1173.2,1422.4 L1175.2,1422.9 L1177.2,1423.4 L1179.2,1424.0 L1181.2,1424.6 L1183.2,1425.2 L1185.2,1425.8 L1187.2,1426.4 L1189.2,1427.0 L1191.2,1427.6 L1193.2,1428.2 L1195.2,1428.8 L1197.2,1429.4 L1199.2,1429.9 L1201.2,1430.5 L1203.2,1431.0 L1205.2,1431.5 L1207.2,1432.0 L1209.2,1432.4 L1211.2,1432.9 L1213.2,1433.2 L1215.2,1433.6 L1217.2,1433.9 L1219.2,1434.2 L1221.2,1434.4 L1223.2,1434.6 L1225.2,1434.8 L1227.2,1435.0 L1229.2,1435.1 L1231.2,1435.1 L1233.2,1435.2 L1235.2,1435.2 L1237.2,1435.2 L1239.2,1435.1 L1241.2,1435.0 L1243.2,1435.0 L1245.2,1434.8 L1247.2,1434.7 L1249.2,1434.6 L1251.2,1434.4 L1253.2,1434.2 L1255.2,1434.1 L1257.2,1433.9 L1259.2,1433.7 L1261.2,1433.5 L1263.2,1433.3 L1265.2,1433.2 L1267.2,1433.0 L1269.2,1432.8 L1271.2,1432.6 L1273.2,1432.5 L1275.2,1432.3 L1277.2,1432.2 L1279.2,1432.1 L1281.2,1432.0 L1283.2,1431.9 L1285.2,1431.8 L1287.2,1431.8 L1289.2,1431.8 L1291.2,1431.7 L1293.2,1431.7 L1295.2,1431.7 L1297.2,1431.8 L1299.2,1431.8 L1301.2,1431.9 L1303.2,1431.9 L1305.2,1432.0 L1307.2,1432.1 L1309.2,1432.2 L1311.2,1432.3 L1313.2,1432.5 L1315.2,1432.6 L1317.2,1432.7 L1319.2,1432.8 L1321.2,1433.0 L1323.2,1433.1 L1325.2,1433.2 L1327.2,1433.4 L1329.2,1433.5 L1331.2,1433.6 L1333.2,1433.7 L1335.2,1433.8 L1337.2,1433.9 L1339.2,1434.0 L1341.2,1434.1 L1343.2,1434.2 L1345.2,1434.3 L1347.2,1434.3 L1349.2,1434.4 L1351.2,1434.5 L1353.2,1434.5 L1355.2,1434.6 L1357.2,1434.6 L1359.2,1434.7 L1361.2,1434.7 L1363.2,1434.8 L1365.2,1434.8 L1367.2,1434.9 L1369.2,1434.9 L1371.2,1435.0 L1373.2,1435.0 L1375.2,1435.1 L1377.2,1435.2 L1379.2,1435.2 L1381.2,1435.3 L1383.2,1435.4 L1385.2,1435.5 L1387.2,1435.5 L1389.2,1435.6 L1391.2,1435.7 L1393.2,1435.8 L1395.2,1435.9 L1397.2,1436.0 L1399.2,1436.1 L1401.2,1436.2 L1403.2,1436.3 L1405.2,1436.4 L1407.2,1436.5 L1409.2,1436.6 L1411.2,1436.7 L1412.5,1436.7 L1412.5,1445.2 L151.2,1445.2 Z" fill="#ffffff" fill-opacity="0.8" stroke="none"/>
<path d="M151.2,1424.8 L153.2,1423.7 L155.2,1422.6 L157.2,1421.5 L159.2,1420.3 L161.2,1419.1 L163.2,1417.9 L165.2,1416.6 L167.2,1415.3 L169.2,1414.0 L171.2,1412.7 L173.2,1411.4 L175.2,1410.1 L177.2,1408.7 L179.2,1407.4 L181.2,1406.1 L183.2,1404.7 L185.2,1403.4 L187.2,1402.1 L189.2,1400.8 L191.2,1399.5 L193.2,1398.3 L195.2,1397.0 L197.2,1395.8 L199.2,1394.6 L201.2,1393.5 L203.2,1392.3 L205.2,1391.2 L207.2,1390.1 L209.2,1389.0 L211.2,1387.9 L213.2,1386.9 L215.2,1385.9 L217.2,1384.8 L219.2,1383.8 L221.2,1382.8 L223.2,1381.9 L225.2,1380.9 L227.2,1379.9 L229.2,1379.0 L231.2,1378.0 L233.2,1377.1 L235.2,1376.1 L237.2,1375.2 L239.2,1374.3 L241.2,1373.3 L243.2,1372.4 L245.2,1371.5 L247.2,1370.7 L249.2,1369.8 L251.2,1368.9 L253.2,1368.1 L255.2,1367.2 L257.2,1366.4 L259.2,1365.6 L261.2,1364.8 L263.2,1364.0 L265.2,1363.3 L267.2,1362.6 L269.2,1361.9 L271.2,1361.2 L273.2,1360.5 L275.2,1359.9 L277.2,1359.3 L279.2,1358.7 L281.2,1358.1 L283.2,1357.6 L285.2,1357.1 L287.2,1356.6 L289.2,1356.2 L291.2,1355.7 L293.2,1355.3 L295.2,1354.9 L297.2,1354.5 L299.2,1354.1 L301.2,1353.7 L303.2,1353.3 L305.2,1352.8 L307.2,1352.4 L309.2,1351.9 L311.2,1351.3 L313.2,1350.7 L315.2,1350.1 L317.2,1349.3 L319.2,1348.5 L321.2,1347.6 L323.2,1346.5 L325.2,1345.3 L327.2,1344.0 L329.2,1342.5 L331.2,1340.8 L333.2,1339.0 L335.2,1337.0 L337.2,1334.7 L339.2,1332.3 L341.2,1329.7 L343.2,1326.9 L345.2,1323.8 L347.2,1320.6 L349.2,1317.1 L351.2,1313.5 L353.2,1309.6 L355.2,1305.6 L357.2,1301.3 L359.2,1296.9 L361.2,1292.4 L363.2,1287.7 L365.2,1282.8 L367.2,1277.9 L369.2,1272.9 L371.2,1267.8 L373.2,1262.7 L375.2,1257.5 L377.2,1252.4 L379.2,1247.2 L381.2,1242.1 L383.2,1237.1 L385.2,1232.2 L387.2,1227.4 L389.2,1222.7 L391.2,1218.1 L393.2,1213.7 L395.2,1209.4 L397.2,1205.4 L399.2,1201.5 L401.2,1197.8 L403.2,1194.3 L405.2,1190.9 L407.2,1187.8 L409.2,1184.9 L411.2,1182.2 L413.2,1179.6 L415.2,1177.2 L417.2,1175.0 L419.2,1173.0 L421.2,1171.1 L423.2,1169.3 L425.2,1167.7 L427.2,1166.2 L429.2,1164.8 L431.2,1163.5 L433.2,1162.3 L435.2,1161.2 L437.2,1160.1 L439.2,1159.2 L441.2,1158.3 L443.2,1157.4 L445.2,1156.7 L447.2,1155.9 L449.2,1155.2 L451.2,1154.6 L453.2,1154.0 L455.2,1153.4 L457.2,1152.9 L459.2,1152.4 L461.2,1152.0 L463.2,1151.5 L465.2,1151.1 L467.2,1150.7 L469.2,1150.4 L471.2,1150.0 L473.2,1149.7 L475.2,1149.4 L477.2,1149.2 L479.2,1148.9 L481.2,1148.7 L483.2,1148.5 L485.2,1148.4 L487.2,1148.3 L489.2,1148.2 L491.2,1148.2 L493.2,1148.3 L495.2,1148.4 L497.2,1148.6 L499.2,1148.9 L501.2,1149.2 L503.2,1149.7 L505.2,1150.3 L507.2,1151.0 L509.2,1151.8 L511.2,1152.8 L513.2,1153.9 L515.2,1155.1 L517.2,1156.5 L519.2,1158.0 L521.2,1159.7 L523.2,1161.5 L525.2,1163.5 L527.2,1165.6 L529.2,1167.9 L531.2,1170.3 L533.2,1172.8 L535.2,1175.5 L537.2,1178.2 L539.2,1181.1 L541.2,1184.1 L543.2,1187.1 L545.2,1190.2 L547.2,1193.3 L549.2,1196.4 L551.2,1199.6 L553.2,1202.8 L555.2,1205.9 L557.2,1209.0 L559.2,1212.1 L561.2,1215.0 L563.2,1217.9 L565.2,1220.7 L567.2,1223.3 L569.2,1225.8 L571.2,1228.1 L573.2,1230.3 L575.2,1232.3 L577.2,1234.0 L579.2,1235.6 L581.2,1236.9 L583.2,1237.9 L585.2,1238.8 L587.2,1239.3 L589.2,1239.7 L591.2,1239.7 L593.2,1239.5 L595.2,1239.1 L597.2,1238.3 L599.2,1237.4 L601.2,1236.2 L603.2,1234.8 L605.2,1233.1 L607.2,1231.3 L609.2,1229.3 L611.2,1227.1 L613.2,1224.9 L615.2,1222.5 L617.2,1220.0 L619.2,1217.5 L621.2,1214.9 L623.2,1212.4 L625.2,1209.9 L627.2,1207.5 L629.2,1205.2 L631.2,1203.0 L633.2,1201.0 L635.2,1199.2 L637.2,1197.6 L639.2,1196.2 L641.2,1195.1 L643.2,1194.3 L645.2,1193.9 L647.2,1193.7 L649.2,1193.9 L651.2,1194.4 L653.2,1195.3 L655.2,1196.5 L657.2,1198.1 L659.2,1200.0 L661.2,1202.3 L663.2,1204.9 L665.2,1207.8 L667.2,1211.0 L669.2,1214.5 L671.2,1218.2 L673.2,1222.2 L675.2,1226.4 L677.2,1230.7 L679.2,1235.2 L681.2,1239.8 L683.2,1244.4 L685.2,1249.1 L687.2,1253.9 L689.2,1258.6 L691.2,1263.3 L693.2,1268.0 L695.2,1272.5 L697.2,1276.9 L699.2,1281.2 L701.2,1285.4 L703.2,1289.3 L705.2,1293.1 L707.2,1296.7 L709.2,1300.1 L711.2,1303.2 L713.2,1306.1 L715.2,1308.8 L717.2,1311.2 L719.2,1313.4 L721.2,1315.4 L723.2,1317.2 L725.2,1318.7 L727.2,1320.0 L729.2,1321.1 L731.2,1321.9 L733.2,1322.6 L735.2,1323.1 L737.2,1323.4 L739.2,1323.6 L741.2,1323.5 L743.2,1323.4 L745.2,1323.1 L747.2,1322.7 L749.2,1322.3 L751.2,1321.7 L753.2,1321.1 L755.2,1320.4 L757.2,1319.7 L759.2,1319.0 L761.2,1318.3 L763.2,1317.7 L765.2,1317.0 L767.2,1316.4 L769.2,1315.9 L771.2,1315.5 L773.2,1315.2 L775.2,1315.0 L777.2,1314.9 L779.2,1314.9 L781.2,1315.1 L783.2,1315.4 L785.2,1315.9 L787.2,1316.5 L789.2,1317.3 L791.2,1318.2 L793.2,1319.2 L795.2,1320.4 L797.2,1321.7 L799.2,1323.1 L801.2,1324.6 L803.2,1326.2 L805.2,1327.8 L807.2,1329.5 L809.2,1331.2 L811.2,1333.0 L813.2,1334.7 L815.2,1336.5 L817.2,1338.1 L819.2,1339.8 L821.2,1341.4 L823.2,1342.9 L825.2,1344.3 L827.2,1345.7 L829.2,1346.9 L831.2,1348.1 L833.2,1349.1 L835.2,1350.0 L837.2,1350.8 L839.2,1351.5 L841.2,1352.0 L843.2,1352.5 L845.2,1352.8 L847.2,1353.1 L849.2,1353.2 L851.2,1353.2 L853.2,1353.2 L855.2,1353.1 L857.2,1352.9 L859.2,1352.6 L861.2,1352.3 L863.2,1351.9 L865.2,1351.5 L867.2,1351.1 L869.2,1350.6 L871.2,1350.1 L873.2,1349.6 L875.2,1349.2 L877.2,1348.7 L879.2,1348.2 L881.2,1347.7 L883.2,1347.3 L885.2,1346.9 L887.2,1346.6 L889.2,1346.3 L891.2,1346.1 L893.2,1346.0 L895.2,1345.9 L897.2,1345.9 L899.2,1346.1 L901.2,1346.3 L903.2,1346.6 L905.2,1347.0 L907.2,1347.5 L909.2,1348.1 L911.2,1348.8 L913.2,1349.7 L915.2,1350.6 L917.2,1351.6 L919.2,1352.8 L921.2,1354.0 L923.2,1355.2 L925.2,1356.6 L927.2,1358.0 L929.2,1359.4 L931.2,1360.9 L933.2,1362.4 L935.2,1363.9 L937.2,1365.5 L939.2,1367.0 L941.2,1368.5 L943.2,1369.9 L945.2,1371.3 L947.2,1372.7 L949.2,1374.0 L951.2,1375.2 L953.2,1376.4 L955.2,1377.4 L957.2,1378.4 L959.2,1379.3 L961.2,1380.2 L963.2,1380.9 L965.2,1381.6 L967.2,1382.1 L969.2,1382.6 L971.2,1383.0 L973.2,1383.3 L975.2,1383.6 L977.2,1383.8 L979.2,1383.9 L981.2,1384.0 L983.2,1384.0 L985.2,1384.0 L987.2,1383.9 L989.2,1383.8 L991.2,1383.7 L993.2,1383.6 L995.2,1383.4 L997.2,1383.2 L999.2,1383.0 L1001.2,1382.8 L1003.2,1382.6 L1005.2,1382.5 L1007.2,1382.3 L1009.2,1382.2 L1011.2,1382.0 L1013.2,1382.0 L1015.2,1381.9 L1017.2,1381.9 L1019.2,1381.9 L1021.2,1382.0 L1023.2,1382.2 L1025.2,1382.4 L1027.2,1382.7 L1029.2,1383.0 L1031.2,1383.4 L1033.2,1383.9 L1035.2,1384.4 L1037.2,1385.0 L1039.2,1385.7 L1041.2,1386.5 L1043.2,1387.3 L1045.2,1388.2 L1047.2,1389.2 L1049.2,1390.2 L1051.2,1391.2 L1053.2,1392.3 L1055.2,1393.5 L1057.2,1394.6 L1059.2,1395.8 L1061.2,1397.0 L1063.2,1398.2 L1065.2,1399.4 L1067.2,1400.6 L1069.2,1401.8 L1071.2,1403.0 L1073.2,1404.1 L1075.2,1405.2 L1077.2,1406.2 L1079.2,1407.2 L1081.2,1408.1 L1083.2,1409.0 L1085.2,1409.9 L1087.2,1410.7 L1089.2,1411.4 L1091.2,1412.0 L1093.2,1412.6 L1095.2,1413.2 L1097.2,1413.7 L1099.2,1414.1 L1101.2,1414.5 L1103.2,1414.9 L1105.2,1415.2 L1107.2,1415.5 L1109.2,1415.7 L1111.2,1415.9 L1113.2,1416.1 L1115.2,1416.2 L1117.2,1416.4 L1119.2,1416.5 L1121.2,1416.6 L1123.2,1416.6 L1125.2,1416.7 L1127.2,1416.8 L1129.2,1416.9 L1131.2,1416.9 L1133.2,1417.0 L1135.2,1417.1 L1137.2,1417.2 L1139.2,1417.3 L1141.2,1417.4 L1143.2,1417.6 L1145.2,1417.7 L1147.2,1417.9 L1149.2,1418.1 L1151.2,1418.3 L1153.2,1418.5 L1155.2,1418.8 L1157.2,1419.1 L1159.2,1419.4 L1161.2,1419.7 L1163.2,1420.1 L1165.2,1420.5 L1167.2,1420.9 L1169.2,1421.4 L1171.2,1421.9 L1173.2,1422.4 L1175.2,1422.9 L1177.2,1423.4 L1179.2,1424.0 L1181.2,1424.6 L1183.2,1425.2 L1185.2,1425.8 L1187.2,1426.4 L1189.2,1427.0 L1191.2,1427.6 L1193.2,1428.2 L1195.2,1428.8 L1197.2,1429.4 L1199.2,1429.9 L1201.2,1430.5 L1203.2,1431.0 L1205.2,1431.5 L1207.2,1432.0 L1209.2,1432.4 L1211.2,1432.9 L1213.2,1433.2 L1215.2,1433.6 L1217.2,1433.9 L1219.2,1434.2 L1221.2,1434.4 L1223.2,1434.6 L1225.2,1434.8 L1227.2,1435.0 L1229.2,1435.1 L1231.2,1435.1 L1233.2,1435.2 L1235.2,1435.2 L1237.2,1435.2 L1239.2,1435.1 L1241.2,1435.0 L1243.2,1435.0 L1245.2,1434.8 L1247.2,1434.7 L1249.2,1434.6 L1251.2,1434.4 L1253.2,1434.2 L1255.2,1434.1 L1257.2,1433.9 L1259.2,1433.7 L1261.2,1433.5 L1263.2,1433.3 L1265.2,1433.2 L1267.2,1433.0 L1269.2,1432.8 L1271.2,1432.6 L1273.2,1432.5 L1275.2,1432.3 L1277.2,1432.2 L1279.2,1432.1 L1281.2,1432.0 L1283.2,1431.9 L1285.2,1431.8 L1287.2,1431.8 L1289.2,1431.8 L1291.2,1431.7 L1293.2,1431.7 L1295.2,1431.7 L1297.2,1431.8 L1299.2,1431.8 L1301.2,1431.9 L1303.2,1431.9 L1305.2,1432.0 L1307.2,1432.1 L1309.2,1432.2 L1311.2,1432.3 L1313.2,1432.5 L1315.2,1432.6 L1317.2,1432.7 L1319.2,1432.8 L1321.2,1433.0 L1323.2,1433.1 L1325.2,1433.2 L1327.2,1433.4 L1329.2,1433.5 L1331.2,1433.6 L1333.2,1433.7 L1335.2,1433.8 L1337.2,1433.9 L1339.2,1434.0 L1341.2,1434.1 L1343.2,1434.2 L1345.2,1434.3 L1347.2,1434.3 L1349.2,1434.4 L1351.2,1434.5 L1353.2,1434.5 L1355.2,1434.6 L1357.2,1434.6 L1359.2,1434.7 L1361.2,1434.7 L1363.2,1434.8 L1365.2,1434.8 L1367.2,1434.9 L1369.2,1434.9 L1371.2,1435.0 L1373.2,1435.0 L1375.2,1435.1 L1377.2,1435.2 L1379.2,1435.2 L1381.2,1435.3 L1383.2,1435.4 L1385.2,1435.5 L1387.2,1435.5 L1389.2,1435.6 L1391.2,1435.7 L1393.2,1435.8 L1395.2,1435.9 L1397.2,1436.0 L1399.2,1436.1 L1401.2,1436.2 L1403.2,1436.3 L1405.2,1436.4 L1407.2,1436.5 L1409.2,1436.6 L1411.2,1436.7 L1412.5,1436.7" fill="none" stroke="#000" stroke-width="1.75" stroke-linejoin="round"/>
<path d="M151.2,1433.0 L153.2,1432.4 L155.2,1431.9 L157.2,1431.3 L159.2,1430.8 L161.2,1430.2 L163.2,1429.7 L165.2,1429.2 L167.2,1428.7 L169.2,1428.2 L171.2,1427.7 L173.2,1427.2 L175.2,1426.8 L177.2,1426.3 L179.2,1425.9 L181.2,1425.5 L183.2,1425.1 L185.2,1424.6 L187.2,1424.2 L189.2,1423.8 L191.2,1423.5 L193.2,1423.1 L195.2,1422.7 L197.2,1422.3 L199.2,1421.9 L201.2,1421.5 L203.2,1421.1 L205.2,1420.7 L207.2,1420.2 L209.2,1419.8 L211.2,1419.4 L213.2,1418.9 L215.2,1418.4 L217.2,1417.9 L219.2,1417.4 L221.2,1416.8 L223.2,1416.2 L225.2,1415.6 L227.2,1415.0 L229.2,1414.3 L231.2,1413.6 L233.2,1412.9 L235.2,1412.2 L237.2,1411.4 L239.2,1410.6 L241.2,1409.8 L243.2,1409.0 L245.2,1408.2 L247.2,1407.3 L249.2,1406.5 L251.2,1405.6 L253.2,1404.7 L255.2,1403.8 L257.2,1402.9 L259.2,1402.1 L261.2,1401.2 L263.2,1400.4 L265.2,1399.5 L267.2,1398.7 L269.2,1397.9 L271.2,1397.2 L273.2,1396.5 L275.2,1395.8 L277.2,1395.1 L279.2,1394.5 L281.2,1393.9 L283.2,1393.3 L285.2,1392.8 L287.2,1392.2 L289.2,1391.8 L291.2,1391.3 L293.2,1390.9 L295.2,1390.4 L297.2,1390.0 L299.2,1389.6 L301.2,1389.2 L303.2,1388.8 L305.2,1388.4 L307.2,1388.0 L309.2,1387.5 L311.2,1387.1 L313.2,1386.6 L315.2,1386.1 L317.2,1385.5 L319.2,1384.9 L321.2,1384.2 L323.2,1383.5 L325.2,1382.7 L327.2,1381.8 L329.2,1380.9 L331.2,1379.9 L333.2,1378.7 L335.2,1377.5 L337.2,1376.2 L339.2,1374.8 L341.2,1373.2 L343.2,1371.6 L345.2,1369.8 L347.2,1367.8 L349.2,1365.8 L351.2,1363.6 L353.2,1361.3 L355.2,1358.8 L357.2,1356.2 L359.2,1353.5 L361.2,1350.6 L363.2,1347.7 L365.2,1344.6 L367.2,1341.3 L369.2,1338.0 L371.2,1334.6 L373.2,1331.1 L375.2,1327.6 L377.2,1324.0 L379.2,1320.3 L381.2,1316.6 L383.2,1313.0 L385.2,1309.3 L387.2,1305.7 L389.2,1302.1 L391.2,1298.5 L393.2,1295.0 L395.2,1291.6 L397.2,1288.3 L399.2,1285.1 L401.2,1282.0 L403.2,1279.1 L405.2,1276.2 L407.2,1273.5 L409.2,1270.9 L411.2,1268.5 L413.2,1266.2 L415.2,1264.0 L417.2,1262.0 L419.2,1260.1 L421.2,1258.3 L423.2,1256.6 L425.2,1255.1 L427.2,1253.7 L429.2,1252.3 L431.2,1251.1 L433.2,1249.9 L435.2,1248.8 L437.2,1247.8 L439.2,1246.8 L441.2,1245.9 L443.2,1245.1 L445.2,1244.2 L447.2,1243.4 L449.2,1242.6 L451.2,1241.8 L453.2,1241.1 L455.2,1240.3 L457.2,1239.5 L459.2,1238.7 L461.2,1237.8 L463.2,1236.9 L465.2,1236.0 L467.2,1235.0 L469.2,1233.9 L471.2,1232.8 L473.2,1231.6 L475.2,1230.4 L477.2,1229.1 L479.2,1227.8 L481.2,1226.3 L483.2,1224.9 L485.2,1223.4 L487.2,1221.8 L489.2,1220.2 L491.2,1218.6 L493.2,1216.9 L495.2,1215.3 L497.2,1213.7 L499.2,1212.1 L501.2,1210.5 L503.2,1209.0 L505.2,1207.5 L507.2,1206.1 L509.2,1204.8 L511.2,1203.6 L513.2,1202.5 L515.2,1201.5 L517.2,1200.7 L519.2,1199.9 L521.2,1199.3 L523.2,1198.9 L525.2,1198.6 L527.2,1198.4 L529.2,1198.3 L531.2,1198.4 L533.2,1198.7 L535.2,1199.0 L537.2,1199.5 L539.2,1200.2 L541.2,1200.9 L543.2,1201.7 L545.2,1202.6 L547.2,1203.7 L549.2,1204.7 L551.2,1205.9 L553.2,1207.1 L555.2,1208.3 L557.2,1209.6 L559.2,1210.9 L561.2,1212.2 L563.2,1213.5 L565.2,1214.8 L567.2,1216.0 L569.2,1217.2 L571.2,1218.4 L573.2,1219.4 L575.2,1220.4 L577.2,1221.3 L579.2,1222.1 L581.2,1222.8 L583.2,1223.4 L585.2,1223.8 L587.2,1224.1 L589.2,1224.3 L591.2,1224.3 L593.2,1224.1 L595.2,1223.8 L597.2,1223.4 L599.2,1222.7 L601.2,1221.9 L603.2,1221.0 L605.2,1219.9 L607.2,1218.7 L609.2,1217.3 L611.2,1215.8 L613.2,1214.2 L615.2,1212.5 L617.2,1210.7 L619.2,1208.8 L621.2,1206.9 L623.2,1205.0 L625.2,1203.1 L627.2,1201.2 L629.2,1199.4 L631.2,1197.6 L633.2,1195.9 L635.2,1194.3 L637.2,1192.8 L639.2,1191.5 L641.2,1190.3 L643.2,1189.4 L645.2,1188.6 L647.2,1188.0 L649.2,1187.7 L651.2,1187.6 L653.2,1187.7 L655.2,1188.1 L657.2,1188.7 L659.2,1189.5 L661.2,1190.6 L663.2,1191.9 L665.2,1193.4 L667.2,1195.1 L669.2,1197.0 L671.2,1199.1 L673.2,1201.3 L675.2,1203.6 L677.2,1206.1 L679.2,1208.7 L681.2,1211.3 L683.2,1214.0 L685.2,1216.8 L687.2,1219.6 L689.2,1222.3 L691.2,1225.1 L693.2,1227.8 L695.2,1230.5 L697.2,1233.1 L699.2,1235.6 L701.2,1238.0 L703.2,1240.3 L705.2,1242.4 L707.2,1244.5 L709.2,1246.3 L711.2,1248.0 L713.2,1249.6 L715.2,1250.9 L717.2,1252.1 L719.2,1253.1 L721.2,1253.8 L723.2,1254.4 L725.2,1254.8 L727.2,1255.0 L729.2,1255.0 L731.2,1254.8 L733.2,1254.5 L735.2,1254.0 L737.2,1253.3 L739.2,1252.6 L741.2,1251.7 L743.2,1250.7 L745.2,1249.6 L747.2,1248.5 L749.2,1247.4 L751.2,1246.2 L753.2,1245.1 L755.2,1244.0 L757.2,1243.0 L759.2,1242.1 L761.2,1241.4 L763.2,1240.8 L765.2,1240.3 L767.2,1240.1 L769.2,1240.0 L771.2,1240.2 L773.2,1240.6 L775.2,1241.3 L777.2,1242.2 L779.2,1243.4 L781.2,1244.8 L783.2,1246.5 L785.2,1248.4 L787.2,1250.5 L789.2,1252.9 L791.2,1255.5 L793.2,1258.3 L795.2,1261.3 L797.2,1264.4 L799.2,1267.7 L801.2,1271.1 L803.2,1274.6 L805.2,1278.1 L807.2,1281.7 L809.2,1285.3 L811.2,1288.8 L813.2,1292.4 L815.2,1295.9 L817.2,1299.3 L819.2,1302.6 L821.2,1305.8 L823.2,1308.9 L825.2,1311.8 L827.2,1314.5 L829.2,1317.0 L831.2,1319.4 L833.2,1321.5 L835.2,1323.4 L837.2,1325.1 L839.2,1326.5 L841.2,1327.8 L843.2,1328.7 L845.2,1329.5 L847.2,1330.0 L849.2,1330.3 L851.2,1330.3 L853.2,1330.2 L855.2,1329.8 L857.2,1329.3 L859.2,1328.5 L861.2,1327.6 L863.2,1326.5 L865.2,1325.3 L867.2,1324.0 L869.2,1322.6 L871.2,1321.0 L873.2,1319.5 L875.2,1317.9 L877.2,1316.2 L879.2,1314.6 L881.2,1313.0 L883.2,1311.5 L885.2,1310.0 L887.2,1308.6 L889.2,1307.3 L891.2,1306.2 L893.2,1305.2 L895.2,1304.3 L897.2,1303.6 L899.2,1303.1 L901.2,1302.8 L903.2,1302.7 L905.2,1302.8 L907.2,1303.1 L909.2,1303.6 L911.2,1304.3 L913.2,1305.2 L915.2,1306.3 L917.2,1307.6 L919.2,1309.1 L921.2,1310.7 L923.2,1312.5 L925.2,1314.4 L927.2,1316.4 L929.2,1318.5 L931.2,1320.6 L933.2,1322.9 L935.2,1325.1 L937.2,1327.4 L939.2,1329.7 L941.2,1332.0 L943.2,1334.2 L945.2,1336.3 L947.2,1338.4 L949.2,1340.4 L951.2,1342.3 L953.2,1344.1 L955.2,1345.8 L957.2,1347.4 L959.2,1348.8 L961.2,1350.0 L963.2,1351.2 L965.2,1352.1 L967.2,1353.0 L969.2,1353.7 L971.2,1354.2 L973.2,1354.6 L975.2,1354.9 L977.2,1355.0 L979.2,1355.0 L981.2,1354.9 L983.2,1354.7 L985.2,1354.3 L987.2,1353.9 L989.2,1353.4 L991.2,1352.8 L993.2,1352.1 L995.2,1351.4 L997.2,1350.7 L999.2,1349.9 L1001.2,1349.1 L1003.2,1348.3 L1005.2,1347.4 L1007.2,1346.6 L1009.2,1345.9 L1011.2,1345.1 L1013.2,1344.5 L1015.2,1343.9 L1017.2,1343.3 L1019.2,1342.9 L1021.2,1342.6 L1023.2,1342.3 L1025.2,1342.2 L1027.2,1342.3 L1029.2,1342.4 L1031.2,1342.7 L1033.2,1343.2 L1035.2,1343.8 L1037.2,1344.6 L1039.2,1345.5 L1041.2,1346.6 L1043.2,1347.8 L1045.2,1349.1 L1047.2,1350.6 L1049.2,1352.3 L1051.2,1354.0 L1053.2,1355.8 L1055.2,1357.8 L1057.2,1359.8 L1059.2,1361.8 L1061.2,1363.9 L1063.2,1366.1 L1065.2,1368.3 L1067.2,1370.4 L1069.2,1372.6 L1071.2,1374.7 L1073.2,1376.8 L1075.2,1378.8 L1077.2,1380.7 L1079.2,1382.6 L1081.2,1384.4 L1083.2,1386.1 L1085.2,1387.7 L1087.2,1389.2 L1089.2,1390.6 L1091.2,1391.8 L1093.2,1393.0 L1095.2,1394.1 L1097.2,1395.0 L1099.2,1395.8 L1101.2,1396.5 L1103.2,1397.2 L1105.2,1397.7 L1107.2,1398.2 L1109.2,1398.5 L1111.2,1398.8 L1113.2,1399.0 L1115.2,1399.2 L1117.2,1399.3 L1119.2,1399.4 L1121.2,1399.4 L1123.2,1399.5 L1125.2,1399.5 L1127.2,1399.4 L1129.2,1399.4 L1131.2,1399.4 L1133.2,1399.4 L1135.2,1399.4 L1137.2,1399.4 L1139.2,1399.5 L1141.2,1399.6 L1143.2,1399.7 L1145.2,1399.9 L1147.2,1400.1 L1149.2,1400.4 L1151.2,1400.7 L1153.2,1401.1 L1155.2,1401.5 L1157.2,1402.0 L1159.2,1402.5 L1161.2,1403.1 L1163.2,1403.8 L1165.2,1404.5 L1167.2,1405.2 L1169.2,1406.0 L1171.2,1406.9 L1173.2,1407.8 L1175.2,1408.7 L1177.2,1409.7 L1179.2,1410.7 L1181.2,1411.7 L1183.2,1412.7 L1185.2,1413.8 L1187.2,1414.8 L1189.2,1415.9 L1191.2,1416.9 L1193.2,1417.9 L1195.2,1418.9 L1197.2,1419.9 L1199.2,1420.9 L1201.2,1421.8 L1203.2,1422.7 L1205.2,1423.5 L1207.2,1424.3 L1209.2,1425.1 L1211.2,1425.8 L1213.2,1426.5 L1215.2,1427.1 L1217.2,1427.6 L1219.2,1428.1 L1221.2,1428.6 L1223.2,1429.0 L1225.2,1429.4 L1227.2,1429.7 L1229.2,1430.0 L1231.2,1430.2 L1233.2,1430.4 L1235.2,1430.5 L1237.2,1430.6 L1239.2,1430.7 L1241.2,1430.7 L1243.2,1430.7 L1245.2,1430.7 L1247.2,1430.7 L1249.2,1430.7 L1251.2,1430.6 L1253.2,1430.5 L1255.2,1430.4 L1257.2,1430.3 L1259.2,1430.2 L1261.2,1430.1 L1263.2,1430.0 L1265.2,1429.9 L1267.2,1429.8 L1269.2,1429.7 L1271.2,1429.7 L1273.2,1429.6 L1275.2,1429.6 L1277.2,1429.5 L1279.2,1429.5 L1281.2,1429.5 L1283.2,1429.6 L1285.2,1429.6 L1287.2,1429.7 L1289.2,1429.8 L1291.2,1429.9 L1293.2,1430.0 L1295.2,1430.2 L1297.2,1430.4 L1299.2,1430.6 L1301.2,1430.8 L1303.2,1431.0 L1305.2,1431.3 L1307.2,1431.6 L1309.2,1431.8 L1311.2,1432.1 L1313.2,1432.4 L1315.2,1432.8 L1317.2,1433.1 L1319.2,1433.4 L1321.2,1433.8 L1323.2,1434.1 L1325.2,1434.5 L1327.2,1434.8 L1329.2,1435.1 L1331.2,1435.5 L1333.2,1435.8 L1335.2,1436.2 L1337.2,1436.5 L1339.2,1436.9 L1341.2,1437.2 L1343.2,1437.5 L1345.2,1437.9 L1347.2,1438.2 L1349.2,1438.5 L1351.2,1438.8 L1353.2,1439.1 L1355.2,1439.4 L1357.2,1439.7 L1359.2,1440.0 L1361.2,1440.3 L1363.2,1440.6 L1365.2,1440.8 L1367.2,1441.1 L1369.2,1441.3 L1371.2,1441.6 L1373.2,1441.8 L1375.2,1442.0 L1377.2,1442.3 L1379.2,1442.5 L1381.2,1442.7 L1383.2,1442.9 L1385.2,1443.0 L1387.2,1443.2 L1389.2,1443.4 L1391.2,1443.5 L1393.2,1443.7 L1395.2,1443.8 L1397.2,1443.9 L1399.2,1444.1 L1401.2,1444.2 L1403.2,1444.3 L1405.2,1444.4 L1407.2,1444.5 L1409.2,1444.5 L1411.2,1444.6 L1412.5,1444.6 L1412.5,1445.2 L151.2,1445.2 Z" fill="#ff0000" fill-opacity="0.8" stroke="none"/>
<path d="M151.2,1433.0 L153.2,1432.4 L155.2,1431.9 L157.2,1431.3 L159.2,1430.8 L161.2,1430.2 L163.2,1429.7 L165.2,1429.2 L167.2,1428.7 L169.2,1428.2 L171.2,1427.7 L173.2,1427.2 L175.2,1426.8 L177.2,1426.3 L179.2,1425.9 L181.2,1425.5 L183.2,1425.1 L185.2,1424.6 L187.2,1424.2 L189.2,1423.8 L191.2,1423.5 L193.2,1423.1 L195.2,1422.7 L197.2,1422.3 L199.2,1421.9 L201.2,1421.5 L203.2,1421.1 L205.2,1420.7 L207.2,1420.2 L209.2,1419.8 L211.2,1419.4 L213.2,1418.9 L215.2,1418.4 L217.2,1417.9 L219.2,1417.4 L221.2,1416.8 L223.2,1416.2 L225.2,1415.6 L227.2,1415.0 L229.2,1414.3 L231.2,1413.6 L233.2,1412.9 L235.2,1412.2 L237.2,1411.4 L239.2,1410.6 L241.2,1409.8 L243.2,1409.0 L245.2,1408.2 L247.2,1407.3 L249.2,1406.5 L251.2,1405.6 L253.2,1404.7 L255.2,1403.8 L257.2,1402.9 L259.2,1402.1 L261.2,1401.2 L263.2,1400.4 L265.2,1399.5 L267.2,1398.7 L269.2,1397.9 L271.2,1397.2 L273.2,1396.5 L275.2,1395.8 L277.2,1395.1 L279.2,1394.5 L281.2,1393.9 L283.2,1393.3 L285.2,1392.8 L287.2,1392.2 L289.2,1391.8 L291.2,1391.3 L293.2,1390.9 L295.2,1390.4 L297.2,1390.0 L299.2,1389.6 L301.2,1389.2 L303.2,1388.8 L305.2,1388.4 L307.2,1388.0 L309.2,1387.5 L311.2,1387.1 L313.2,1386.6 L315.2,1386.1 L317.2,1385.5 L319.2,1384.9 L321.2,1384.2 L323.2,1383.5 L325.2,1382.7 L327.2,1381.8 L329.2,1380.9 L331.2,1379.9 L333.2,1378.7 L335.2,1377.5 L337.2,1376.2 L339.2,1374.8 L341.2,1373.2 L343.2,1371.6 L345.2,1369.8 L347.2,1367.8 L349.2,1365.8 L351.2,1363.6 L353.2,1361.3 L355.2,1358.8 L357.2,1356.2 L359.2,1353.5 L361.2,1350.6 L363.2,1347.7 L365.2,1344.6 L367.2,1341.3 L369.2,1338.0 L371.2,1334.6 L373.2,1331.1 L375.2,1327.6 L377.2,1324.0 L379.2,1320.3 L381.2,1316.6 L383.2,1313.0 L385.2,1309.3 L387.2,1305.7 L389.2,1302.1 L391.2,1298.5 L393.2,1295.0 L395.2,1291.6 L397.2,1288.3 L399.2,1285.1 L401.2,1282.0 L403.2,1279.1 L405.2,1276.2 L407.2,1273.5 L409.2,1270.9 L411.2,1268.5 L413.2,1266.2 L415.2,1264.0 L417.2,1262.0 L419.2,1260.1 L421.2,1258.3 L423.2,1256.6 L425.2,1255.1 L427.2,1253.7 L429.2,1252.3 L431.2,1251.1 L433.2,1249.9 L435.2,1248.8 L437.2,1247.8 L439.2,1246.8 L441.2,1245.9 L443.2,1245.1 L445.2,1244.2 L447.2,1243.4 L449.2,1242.6 L451.2,1241.8 L453.2,1241.1 L455.2,1240.3 L457.2,1239.5 L459.2,1238.7 L461.2,1237.8 L463.2,1236.9 L465.2,1236.0 L467.2,1235.0 L469.2,1233.9 L471.2,1232.8 L473.2,1231.6 L475.2,1230.4 L477.2,1229.1 L479.2,1227.8 L481.2,1226.3 L483.2,1224.9 L485.2,1223.4 L487.2,1221.8 L489.2,1220.2 L491.2,1218.6 L493.2,1216.9 L495.2,1215.3 L497.2,1213.7 L499.2,1212.1 L501.2,1210.5 L503.2,1209.0 L505.2,1207.5 L507.2,1206.1 L509.2,1204.8 L511.2,1203.6 L513.2,1202.5 L515.2,1201.5 L517.2,1200.7 L519.2,1199.9 L521.2,1199.3 L523.2,1198.9 L525.2,1198.6 L527.2,1198.4 L529.2,1198.3 L531.2,1198.4 L533.2,1198.7 L535.2,1199.0 L537.2,1199.5 L539.2,1200.2 L541.2,1200.9 L543.2,1201.7 L545.2,1202.6 L547.2,1203.7 L549.2,1204.7 L551.2,1205.9 L553.2,1207.1 L555.2,1208.3 L557.2,1209.6 L559.2,1210.9 L561.2,1212.2 L563.2,1213.5 L565.2,1214.8 L567.2,1216.0 L569.2,1217.2 L571.2,1218.4 L573.2,1219.4 L575.2,1220.4 L577.2,1221.3 L579.2,1222.1 L581.2,1222.8 L583.2,1223.4 L585.2,1223.8 L587.2,1224.1 L589.2,1224.3 L591.2,1224.3 L593.2,1224.1 L595.2,1223.8 L597.2,1223.4 L599.2,1222.7 L601.2,1221.9 L603.2,1221.0 L605.2,1219.9 L607.2,1218.7 L609.2,1217.3 L611.2,1215.8 L613.2,1214.2 L615.2,1212.5 L617.2,1210.7 L619.2,1208.8 L621.2,1206.9 L623.2,1205.0 L625.2,1203.1 L627.2,1201.2 L629.2,1199.4 L631.2,1197.6 L633.2,1195.9 L635.2,1194.3 L637.2,1192.8 L639.2,1191.5 L641.2,1190.3 L643.2,1189.4 L645.2,1188.6 L647.2,1188.0 L649.2,1187.7 L651.2,1187.6 L653.2,1187.7 L655.2,1188.1 L657.2,1188.7 L659.2,1189.5 L661.2,1190.6 L663.2,1191.9 L665.2,1193.4 L667.2,1195.1 L669.2,1197.0 L671.2,1199.1 L673.2,1201.3 L675.2,1203.6 L677.2,1206.1 L679.2,1208.7 L681.2,1211.3 L683.2,1214.0 L685.2,1216.8 L687.2,1219.6 L689.2,1222.3 L691.2,1225.1 L693.2,1227.8 L695.2,1230.5 L697.2,1233.1 L699.2,1235.6 L701.2,1238.0 L703.2,1240.3 L705.2,1242.4 L707.2,1244.5 L709.2,1246.3 L711.2,1248.0 L713.2,1249.6 L715.2,1250.9 L717.2,1252.1 L719.2,1253.1 L721.2,1253.8 L723.2,1254.4 L725.2,1254.8 L727.2,1255.0 L729.2,1255.0 L731.2,1254.8 L733.2,1254.5 L735.2,1254.0 L737.2,1253.3 L739.2,1252.6 L741.2,1251.7 L743.2,1250.7 L745.2,1249.6 L747.2,1248.5 L749.2,1247.4 L751.2,1246.2 L753.2,1245.1 L755.2,1244.0 L757.2,1243.0 L759.2,1242.1 L761.2,1241.4 L763.2,1240.8 L765.2,1240.3 L767.2,1240.1 L769.2,1240.0 L771.2,1240.2 L773.2,1240.6 L775.2,1241.3 L777.2,1242.2 L779.2,1243.4 L781.2,1244.8 L783.2,1246.5 L785.2,1248.4 L787.2,1250.5 L789.2,1252.9 L791.2,1255.5 L793.2,1258.3 L795.2,1261.3 L797.2,1264.4 L799.2,1267.7 L801.2,1271.1 L803.2,1274.6 L805.2,1278.1 L807.2,1281.7 L809.2,1285.3 L811.2,1288.8 L813.2,1292.4 L815.2,1295.9 L817.2,1299.3 L819.2,1302.6 L821.2,1305.8 L823.2,1308.9 L825.2,1311.8 L827.2,1314.5 L829.2,1317.0 L831.2,1319.4 L833.2,1321.5 L835.2,1323.4 L837.2,1325.1 L839.2,1326.5 L841.2,1327.8 L843.2,1328.7 L845.2,1329.5 L847.2,1330.0 L849.2,1330.3 L851.2,1330.3 L853.2,1330.2 L855.2,1329.8 L857.2,1329.3 L859.2,1328.5 L861.2,1327.6 L863.2,1326.5 L865.2,1325.3 L867.2,1324.0 L869.2,1322.6 L871.2,1321.0 L873.2,1319.5 L875.2,1317.9 L877.2,1316.2 L879.2,1314.6 L881.2,1313.0 L883.2,1311.5 L885.2,1310.0 L887.2,1308.6 L889.2,1307.3 L891.2,1306.2 L893.2,1305.2 L895.2,1304.3 L897.2,1303.6 L899.2,1303.1 L901.2,1302.8 L903.2,1302.7 L905.2,1302.8 L907.2,1303.1 L909.2,1303.6 L911.2,1304.3 L913.2,1305.2 L915.2,1306.3 L917.2,1307.6 L919.2,1309.1 L921.2,1310.7 L923.2,1312.5 L925.2,1314.4 L927.2,1316.4 L929.2,1318.5 L931.2,1320.6 L933.2,1322.9 L935.2,1325.1 L937.2,1327.4 L939.2,1329.7 L941.2,1332.0 L943.2,1334.2 L945.2,1336.3 L947.2,1338.4 L949.2,1340.4 L951.2,1342.3 L953.2,1344.1 L955.2,1345.8 L957.2,1347.4 L959.2,1348.8 L961.2,1350.0 L963.2,1351.2 L965.2,1352.1 L967.2,1353.0 L969.2,1353.7 L971.2,1354.2 L973.2,1354.6 L975.2,1354.9 L977.2,1355.0 L979.2,1355.0 L981.2,1354.9 L983.2,1354.7 L985.2,1354.3 L987.2,1353.9 L989.2,1353.4 L991.2,1352.8 L993.2,1352.1 L995.2,1351.4 L997.2,1350.7 L999.2,1349.9 L1001.2,1349.1 L1003.2,1348.3 L1005.2,1347.4 L1007.2,1346.6 L1009.2,1345.9 L1011.2,1345.1 L1013.2,1344.5 L1015.2,1343.9 L1017.2,1343.3 L1019.2,1342.9 L1021.2,1342.6 L1023.2,1342.3 L1025.2,1342.2 L1027.2,1342.3 L1029.2,1342.4 L1031.2,1342.7 L1033.2,1343.2 L1035.2,1343.8 L1037.2,1344.6 L1039.2,1345.5 L1041.2,1346.6 L1043.2,1347.8 L1045.2,1349.1 L1047.2,1350.6 L1049.2,1352.3 L1051.2,1354.0 L1053.2,1355.8 L1055.2,1357.8 L1057.2,1359.8 L1059.2,1361.8 L1061.2,1363.9 L1063.2,1366.1 L1065.2,1368.3 L1067.2,1370.4 L1069.2,1372.6 L1071.2,1374.7 L1073.2,1376.8 L1075.2,1378.8 L1077.2,1380.7 L1079.2,1382.6 L1081.2,1384.4 L1083.2,1386.1 L1085.2,1387.7 L1087.2,1389.2 L1089.2,1390.6 L1091.2,1391.8 L1093.2,1393.0 L1095.2,1394.1 L1097.2,1395.0 L1099.2,1395.8 L1101.2,1396.5 L1103.2,1397.2 L1105.2,1397.7 L1107.2,1398.2 L1109.2,1398.5 L1111.2,1398.8 L1113.2,1399.0 L1115.2,1399.2 L1117.2,1399.3 L1119.2,1399.4 L1121.2,1399.4 L1123.2,1399.5 L1125.2,1399.5 L1127.2,1399.4 L1129.2,1399.4 L1131.2,1399.4 L1133.2,1399.4 L1135.2,1399.4 L1137.2,1399.4 L1139.2,1399.5 L1141.2,1399.6 L1143.2,1399.7 L1145.2,1399.9 L1147.2,1400.1 L1149.2,1400.4 L1151.2,1400.7 L1153.2,1401.1 L1155.2,1401.5 L1157.2,1402.0 L1159.2,1402.5 L1161.2,1403.1 L1163.2,1403.8 L1165.2,1404.5 L1167.2,1405.2 L1169.2,1406.0 L1171.2,1406.9 L1173.2,1407.8 L1175.2,1408.7 L1177.2,1409.7 L1179.2,1410.7 L1181.2,1411.7 L1183.2,1412.7 L1185.2,1413.8 L1187.2,1414.8 L1189.2,1415.9 L1191.2,1416.9 L1193.2,1417.9 L1195.2,1418.9 L1197.2,1419.9 L1199.2,1420.9 L1201.2,1421.8 L1203.2,1422.7 L1205.2,1423.5 L1207.2,1424.3 L1209.2,1425.1 L1211.2,1425.8 L1213.2,1426.5 L1215.2,1427.1 L1217.2,1427.6 L1219.2,1428.1 L1221.2,1428.6 L1223.2,1429.0 L1225.2,1429.4 L1227.2,1429.7 L1229.2,1430.0 L1231.2,1430.2 L1233.2,1430.4 L1235.2,1430.5 L1237.2,1430.6 L1239.2,1430.7 L1241.2,1430.7 L1243.2,1430.7 L1245.2,1430.7 L1247.2,1430.7 L1249.2,1430.7 L1251.2,1430.6 L1253.2,1430.5 L1255.2,1430.4 L1257.2,1430.3 L1259.2,1430.2 L1261.2,1430.1 L1263.2,1430.0 L1265.2,1429.9 L1267.2,1429.8 L1269.2,1429.7 L1271.2,1429.7 L1273.2,1429.6 L1275.2,1429.6 L1277.2,1429.5 L1279.2,1429.5 L1281.2,1429.5 L1283.2,1429.6 L1285.2,1429.6 L1287.2,1429.7 L1289.2,1429.8 L1291.2,1429.9 L1293.2,1430.0 L1295.2,1430.2 L1297.2,1430.4 L1299.2,1430.6 L1301.2,1430.8 L1303.2,1431.0 L1305.2,1431.3 L1307.2,1431.6 L1309.2,1431.8 L1311.2,1432.1 L1313.2,1432.4 L1315.2,1432.8 L1317.2,1433.1 L1319.2,1433.4 L1321.2,1433.8 L1323.2,1434.1 L1325.2,1434.5 L1327.2,1434.8 L1329.2,1435.1 L1331.2,1435.5 L1333.2,1435.8 L1335.2,1436.2 L1337.2,1436.5 L1339.2,1436.9 L1341.2,1437.2 L1343.2,1437.5 L1345.2,1437.9 L1347.2,1438.2 L1349.2,1438.5 L1351.2,1438.8 L1353.2,1439.1 L1355.2,1439.4 L1357.2,1439.7 L1359.2,1440.0 L1361.2,1440.3 L1363.2,1440.6 L1365.2,1440.8 L1367.2,1441.1 L1369.2,1441.3 L1371.2,1441.6 L1373.2,1441.8 L1375.2,1442.0 L1377.2,1442.3 L1379.2,1442.5 L1381.2,1442.7 L1383.2,1442.9 L1385.2,1443.0 L1387.2,1443.2 L1389.2,1443.4 L1391.2,1443.5 L1393.2,1443.7 L1395.2,1443.8 L1397.2,1443.9 L1399.2,1444.1 L1401.2,1444.2 L1403.2,1444.3 L1405.2,1444.4 L1407.2,1444.5 L1409.2,1444.5 L1411.2,1444.6 L1412.5,1444.6" fill="none" stroke="#000" stroke-width="1.75" stroke-linejoin="round"/>
<rect x="96.7" y="1063.7" width="1365.3" height="398.0" fill="none" stroke="#000" stroke-width="2.8"/>
</g>
<rect x="769.7" y="49" width="26.5" height="26.5" fill="#fff" stroke="#000" stroke-width="1.5"/>
<rect x="826" y="49" width="26.5" height="26.5" fill="#ff3333" stroke="#000" stroke-width="1.5"/>
<text x="667.5" y="69" font-size="17" font-weight="bold" textLength="91.5" lengthAdjust="spacingAndGlyphs">No live birth</text>
<text x="863" y="69" font-size="17" font-weight="bold" textLength="71.5" lengthAdjust="spacingAndGlyphs">Live birth</text>
<text x="95" y="22" font-size="28" stroke="#000" stroke-width="0.2" textLength="367.5" lengthAdjust="spacingAndGlyphs">Fresh Embryo Transfer Cycles</text>
<text x="98.5" y="525.5" font-size="28" stroke="#000" stroke-width="0.55" textLength="449" lengthAdjust="spacingAndGlyphs">Frozen-thaw Embryo Transfer Cycles</text>
<text x="97.3" y="1039.5" font-size="28" stroke="#000" stroke-width="0.55" textLength="479.5" lengthAdjust="spacingAndGlyphs">Single Euploid Embryo Transfer Cycles</text>
<text x="37.8" y="117.4" font-size="28" textLength="49.5" lengthAdjust="spacingAndGlyphs">0.25</text>
<text x="38.3" y="178.6" font-size="28" textLength="49.5" lengthAdjust="spacingAndGlyphs">0.20</text>
<text x="41.5" y="236.70000000000002" font-size="28" textLength="49.5" lengthAdjust="spacingAndGlyphs">0.15</text>
<text x="40.5" y="299.0" font-size="28" textLength="49.5" lengthAdjust="spacingAndGlyphs">0.10</text>
<text x="40.8" y="360.7" font-size="28" textLength="49.5" lengthAdjust="spacingAndGlyphs">0.05</text>
<text x="39.8" y="425.4" font-size="28" textLength="49.5" lengthAdjust="spacingAndGlyphs">0.00</text>
<text x="41.7" y="651.4" font-size="28" textLength="48.5" lengthAdjust="spacingAndGlyphs">0.25</text>
<text x="41" y="709.9" font-size="28" textLength="48.5" lengthAdjust="spacingAndGlyphs">0.20</text>
<text x="44.2" y="767.1999999999999" font-size="28" textLength="48.5" lengthAdjust="spacingAndGlyphs">0.15</text>
<text x="43.4" y="825.9" font-size="28" textLength="48.5" lengthAdjust="spacingAndGlyphs">0.10</text>
<text x="44.7" y="882.1999999999999" font-size="28" textLength="48.5" lengthAdjust="spacingAndGlyphs">0.05</text>
<text x="43.5" y="949.4" font-size="28" textLength="48.5" lengthAdjust="spacingAndGlyphs">0.00</text>
<text x="42.7" y="1168.15" font-size="28" textLength="48.5" lengthAdjust="spacingAndGlyphs">0.25</text>
<text x="42" y="1225.9" font-size="28" textLength="48.5" lengthAdjust="spacingAndGlyphs">0.20</text>
<text x="44.7" y="1284.4" font-size="28" textLength="48.5" lengthAdjust="spacingAndGlyphs">0.15</text>
<text x="44.5" y="1343.4" font-size="28" textLength="48.5" lengthAdjust="spacingAndGlyphs">0.10</text>
<text x="45.2" y="1399.4" font-size="28" textLength="48.5" lengthAdjust="spacingAndGlyphs">0.05</text>
<text x="44.7" y="1465.4" font-size="28" textLength="48.5" lengthAdjust="spacingAndGlyphs">0.00</text>
<text x="146.5" y="463" font-size="28" text-anchor="middle">6</text>
<text x="396.3" y="461" font-size="28" text-anchor="middle">8</text>
<text x="645.8" y="464" font-size="28" text-anchor="middle">10</text>
<text x="902" y="463" font-size="28" text-anchor="middle">12</text>
<text x="1148.3" y="463.5" font-size="28" text-anchor="middle">14</text>
<text x="1396.5" y="459.5" font-size="28" text-anchor="middle">16</text>
<text x="158.7" y="970.5" font-size="28" text-anchor="middle">6</text>
<text x="408.7" y="968" font-size="28" text-anchor="middle">8</text>
<text x="657.5" y="970.5" font-size="28" text-anchor="middle">10</text>
<text x="915" y="970.7" font-size="28" text-anchor="middle">12</text>
<text x="1161" y="971.2" font-size="28" text-anchor="middle">14</text>
<text x="1409" y="967.5" font-size="28" text-anchor="middle">16</text>
<text x="159.6" y="1487" font-size="28" text-anchor="middle">6</text>
<text x="409.6" y="1485" font-size="28" text-anchor="middle">8</text>
<text x="657.7" y="1486.8" font-size="28" text-anchor="middle">10</text>
<text x="915.3" y="1488" font-size="28" text-anchor="middle">12</text>
<text x="1162" y="1488" font-size="28" text-anchor="middle">14</text>
<text x="1409.2" y="1483.7" font-size="28" text-anchor="middle">16</text>
<text transform="translate(22,233.7) rotate(-90)" font-size="28" font-weight="bold" text-anchor="middle" textLength="91" lengthAdjust="spacingAndGlyphs">Density</text>
<text transform="translate(22,782.6) rotate(-90)" font-size="28" font-weight="bold" text-anchor="middle" textLength="88.5" lengthAdjust="spacingAndGlyphs">Density</text>
<text transform="translate(24,1298.5) rotate(-90)" font-size="28" font-weight="bold" text-anchor="middle" textLength="91" lengthAdjust="spacingAndGlyphs">Density</text>
<text x="581.5" y="1521" font-size="27.5" font-weight="bold" textLength="264.5" lengthAdjust="spacingAndGlyphs">Endometrial thickness</text>
</svg>
</body></html>
